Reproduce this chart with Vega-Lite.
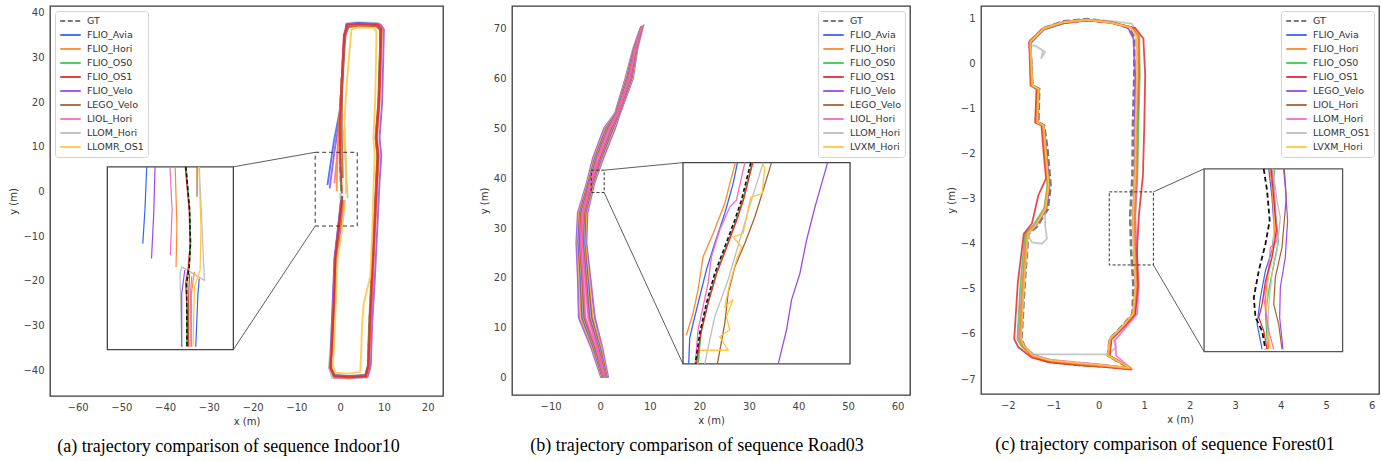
{
"$schema":"https://vega.github.io/schema/vega-lite/v6.json",
"background":"white",
"padding":{"left":8,"top":5,"right":5,"bottom":0},
"spacing":34,
"config":{
 "view":{"stroke":"#3a3a3a","strokeWidth":1.3},
 "axis":{"grid":false,"ticks":false,"domain":false,"labelFont":"DejaVu Sans","labelFontSize":10,"labelColor":"#444","titleFont":"DejaVu Sans","titleFontSize":10,"titleFontWeight":"normal","titleColor":"#333","labelPadding":6,"titlePadding":4},
 "legend":{"title":null,"symbolType":"stroke","symbolSize":420,"symbolStrokeWidth":2,"symbolOpacity":0.9,"labelFont":"DejaVu Sans","labelFontSize":9.5,"labelColor":"#333","fillColor":"white","strokeColor":"#d4d4d4","cornerRadius":3,"padding":4,"offset":5,"rowPadding":2,"clipHeight":12,"labelOffset":5,"labelLimit":200},
 "line":{"clip":true}
},
"resolve":{"scale":{"color":"independent"},"legend":{"color":"independent"}},
"datasets":{
"a_main":[
{"s":"LLOM_Hori","i":0,"x":0.0,"y":-0.3},{"s":"LLOM_Hori","i":1,"x":0.2,"y":-3},{"s":"LLOM_Hori","i":2,"x":-0.3,"y":-9},{"s":"LLOM_Hori","i":3,"x":-1.2,"y":-15},{"s":"LLOM_Hori","i":4,"x":-1.7,"y":-25},{"s":"LLOM_Hori","i":5,"x":-2.2,"y":-35},{"s":"LLOM_Hori","i":6,"x":-2.6,"y":-39.5},{"s":"LLOM_Hori","i":7,"x":-1.8,"y":-41.8},{"s":"LLOM_Hori","i":8,"x":2,"y":-41.9},{"s":"LLOM_Hori","i":9,"x":6.0,"y":-41.7},{"s":"LLOM_Hori","i":10,"x":6.6,"y":-39},{"s":"LLOM_Hori","i":11,"x":6.9,"y":-30},{"s":"LLOM_Hori","i":12,"x":7.5,"y":-20},{"s":"LLOM_Hori","i":13,"x":8.0,"y":-8},{"s":"LLOM_Hori","i":14,"x":8.5,"y":2},{"s":"LLOM_Hori","i":15,"x":8.8,"y":8},{"s":"LLOM_Hori","i":16,"x":8.4,"y":12},{"s":"LLOM_Hori","i":17,"x":9.0,"y":20},{"s":"LLOM_Hori","i":18,"x":9.4,"y":32},{"s":"LLOM_Hori","i":19,"x":9.6,"y":36.6},{"s":"LLOM_Hori","i":20,"x":8.7,"y":37.7},{"s":"LLOM_Hori","i":21,"x":4,"y":37.9},{"s":"LLOM_Hori","i":22,"x":1.5,"y":37.6},{"s":"LLOM_Hori","i":23,"x":0.8,"y":35},{"s":"LLOM_Hori","i":24,"x":0.4,"y":24},{"s":"LLOM_Hori","i":25,"x":0.5,"y":15},{"s":"LLOM_Hori","i":26,"x":1.2,"y":8},{"s":"LLOM_Hori","i":27,"x":1.7,"y":-1.5},
{"s":"FLIO_OS0","i":0,"x":0.3,"y":-1},{"s":"FLIO_OS0","i":1,"x":-0.5,"y":-9},{"s":"FLIO_OS0","i":2,"x":-1.2,"y":-15},{"s":"FLIO_OS0","i":3,"x":-1.6,"y":-25},{"s":"FLIO_OS0","i":4,"x":-2.0,"y":-35},{"s":"FLIO_OS0","i":5,"x":-2.4,"y":-39.5},{"s":"FLIO_OS0","i":6,"x":-1.5,"y":-41.3},{"s":"FLIO_OS0","i":7,"x":2,"y":-41.4},{"s":"FLIO_OS0","i":8,"x":5.8,"y":-41.2},{"s":"FLIO_OS0","i":9,"x":6.4,"y":-39},{"s":"FLIO_OS0","i":10,"x":6.7,"y":-30},{"s":"FLIO_OS0","i":11,"x":7.2,"y":-20},{"s":"FLIO_OS0","i":12,"x":7.8,"y":-8},{"s":"FLIO_OS0","i":13,"x":8.2,"y":2},{"s":"FLIO_OS0","i":14,"x":8.5,"y":8},{"s":"FLIO_OS0","i":15,"x":8.1,"y":12},{"s":"FLIO_OS0","i":16,"x":8.8,"y":20},{"s":"FLIO_OS0","i":17,"x":9.1,"y":32},{"s":"FLIO_OS0","i":18,"x":9.2,"y":36.3},{"s":"FLIO_OS0","i":19,"x":8.4,"y":37.1},{"s":"FLIO_OS0","i":20,"x":4,"y":37.3},{"s":"FLIO_OS0","i":21,"x":1.8,"y":37.1},{"s":"FLIO_OS0","i":22,"x":1.0,"y":35},{"s":"FLIO_OS0","i":23,"x":0.3,"y":24},{"s":"FLIO_OS0","i":24,"x":-0.2,"y":15},{"s":"FLIO_OS0","i":25,"x":0,"y":6},{"s":"FLIO_OS0","i":26,"x":0.2,"y":0},
{"s":"FLIO_Avia","i":0,"x":1.0,"y":-2},{"s":"FLIO_Avia","i":1,"x":0,"y":-9},{"s":"FLIO_Avia","i":2,"x":-0.9,"y":-15},{"s":"FLIO_Avia","i":3,"x":-1.3,"y":-25},{"s":"FLIO_Avia","i":4,"x":-1.8,"y":-35},{"s":"FLIO_Avia","i":5,"x":-2.1,"y":-39.5},{"s":"FLIO_Avia","i":6,"x":-1.3,"y":-41.1},{"s":"FLIO_Avia","i":7,"x":2,"y":-41.3},{"s":"FLIO_Avia","i":8,"x":5.9,"y":-41.1},{"s":"FLIO_Avia","i":9,"x":6.6,"y":-39},{"s":"FLIO_Avia","i":10,"x":6.9,"y":-30},{"s":"FLIO_Avia","i":11,"x":7.4,"y":-20},{"s":"FLIO_Avia","i":12,"x":7.9,"y":-8},{"s":"FLIO_Avia","i":13,"x":8.4,"y":2},{"s":"FLIO_Avia","i":14,"x":8.7,"y":8},{"s":"FLIO_Avia","i":15,"x":8.3,"y":12},{"s":"FLIO_Avia","i":16,"x":8.9,"y":20},{"s":"FLIO_Avia","i":17,"x":9.2,"y":32},{"s":"FLIO_Avia","i":18,"x":9.2,"y":36.5},{"s":"FLIO_Avia","i":19,"x":8.4,"y":37.5},{"s":"FLIO_Avia","i":20,"x":4,"y":37.7},{"s":"FLIO_Avia","i":21,"x":1.4,"y":37.4},{"s":"FLIO_Avia","i":22,"x":0.9,"y":33},{"s":"FLIO_Avia","i":23,"x":0.6,"y":26},{"s":"FLIO_Avia","i":24,"x":0.3,"y":20},{"s":"FLIO_Avia","i":25,"x":-1.5,"y":10.8},{"s":"FLIO_Avia","i":26,"x":-2.9,"y":1.4},
{"s":"FLIO_Velo","i":0,"x":0.2,"y":-2},{"s":"FLIO_Velo","i":1,"x":-0.6,"y":-9},{"s":"FLIO_Velo","i":2,"x":-1.3,"y":-15},{"s":"FLIO_Velo","i":3,"x":-1.7,"y":-25},{"s":"FLIO_Velo","i":4,"x":-2.1,"y":-35},{"s":"FLIO_Velo","i":5,"x":-2.2,"y":-39.5},{"s":"FLIO_Velo","i":6,"x":-1.2,"y":-41.6},{"s":"FLIO_Velo","i":7,"x":2,"y":-41.7},{"s":"FLIO_Velo","i":8,"x":6.3,"y":-41.5},{"s":"FLIO_Velo","i":9,"x":7.0,"y":-39},{"s":"FLIO_Velo","i":10,"x":7.3,"y":-30},{"s":"FLIO_Velo","i":11,"x":7.9,"y":-20},{"s":"FLIO_Velo","i":12,"x":8.5,"y":-8},{"s":"FLIO_Velo","i":13,"x":9.0,"y":2},{"s":"FLIO_Velo","i":14,"x":9.4,"y":8},{"s":"FLIO_Velo","i":15,"x":9.0,"y":12},{"s":"FLIO_Velo","i":16,"x":9.6,"y":20},{"s":"FLIO_Velo","i":17,"x":9.9,"y":32},{"s":"FLIO_Velo","i":18,"x":10.0,"y":36.3},{"s":"FLIO_Velo","i":19,"x":9.2,"y":37.4},{"s":"FLIO_Velo","i":20,"x":4,"y":37.6},{"s":"FLIO_Velo","i":21,"x":1.6,"y":37.4},{"s":"FLIO_Velo","i":22,"x":0.9,"y":33},{"s":"FLIO_Velo","i":23,"x":0.4,"y":24},{"s":"FLIO_Velo","i":24,"x":0.0,"y":17},{"s":"FLIO_Velo","i":25,"x":-1.3,"y":9},{"s":"FLIO_Velo","i":26,"x":-2.4,"y":0.7},
{"s":"LIOL_Hori","i":0,"x":0.6,"y":-2},{"s":"LIOL_Hori","i":1,"x":-0.3,"y":-9},{"s":"LIOL_Hori","i":2,"x":-1.1,"y":-15},{"s":"LIOL_Hori","i":3,"x":-1.5,"y":-25},{"s":"LIOL_Hori","i":4,"x":-1.9,"y":-35},{"s":"LIOL_Hori","i":5,"x":-2.2,"y":-39.5},{"s":"LIOL_Hori","i":6,"x":-1.4,"y":-41.4},{"s":"LIOL_Hori","i":7,"x":2,"y":-41.5},{"s":"LIOL_Hori","i":8,"x":5.9,"y":-41.3},{"s":"LIOL_Hori","i":9,"x":6.5,"y":-39},{"s":"LIOL_Hori","i":10,"x":6.8,"y":-30},{"s":"LIOL_Hori","i":11,"x":7.3,"y":-20},{"s":"LIOL_Hori","i":12,"x":7.8,"y":-8},{"s":"LIOL_Hori","i":13,"x":8.3,"y":2},{"s":"LIOL_Hori","i":14,"x":8.6,"y":8},{"s":"LIOL_Hori","i":15,"x":8.2,"y":12},{"s":"LIOL_Hori","i":16,"x":8.8,"y":20},{"s":"LIOL_Hori","i":17,"x":9.2,"y":32},{"s":"LIOL_Hori","i":18,"x":9.3,"y":36.4},{"s":"LIOL_Hori","i":19,"x":8.5,"y":37.3},{"s":"LIOL_Hori","i":20,"x":4,"y":37.5},{"s":"LIOL_Hori","i":21,"x":1.7,"y":37.3},{"s":"LIOL_Hori","i":22,"x":0.9,"y":35},{"s":"LIOL_Hori","i":23,"x":0.3,"y":24},{"s":"LIOL_Hori","i":24,"x":-0.1,"y":15},{"s":"LIOL_Hori","i":25,"x":-0.7,"y":8},{"s":"LIOL_Hori","i":26,"x":-1.3,"y":1.8},
{"s":"FLIO_Hori","i":0,"x":0.7,"y":-2},{"s":"FLIO_Hori","i":1,"x":-0.2,"y":-9},{"s":"FLIO_Hori","i":2,"x":-1.0,"y":-15},{"s":"FLIO_Hori","i":3,"x":-1.4,"y":-25},{"s":"FLIO_Hori","i":4,"x":-1.9,"y":-35},{"s":"FLIO_Hori","i":5,"x":-2.2,"y":-39.5},{"s":"FLIO_Hori","i":6,"x":-1.3,"y":-41.6},{"s":"FLIO_Hori","i":7,"x":2,"y":-41.7},{"s":"FLIO_Hori","i":8,"x":6.0,"y":-41.4},{"s":"FLIO_Hori","i":9,"x":6.6,"y":-39},{"s":"FLIO_Hori","i":10,"x":6.9,"y":-30},{"s":"FLIO_Hori","i":11,"x":7.4,"y":-20},{"s":"FLIO_Hori","i":12,"x":8.0,"y":-8},{"s":"FLIO_Hori","i":13,"x":8.5,"y":2},{"s":"FLIO_Hori","i":14,"x":8.8,"y":8},{"s":"FLIO_Hori","i":15,"x":8.4,"y":12},{"s":"FLIO_Hori","i":16,"x":9.0,"y":20},{"s":"FLIO_Hori","i":17,"x":9.4,"y":32},{"s":"FLIO_Hori","i":18,"x":9.5,"y":36.5},{"s":"FLIO_Hori","i":19,"x":8.6,"y":37.0},{"s":"FLIO_Hori","i":20,"x":4,"y":37.1},{"s":"FLIO_Hori","i":21,"x":1.9,"y":36.9},{"s":"FLIO_Hori","i":22,"x":1.1,"y":35},{"s":"FLIO_Hori","i":23,"x":0.3,"y":24},{"s":"FLIO_Hori","i":24,"x":-0.3,"y":15},{"s":"FLIO_Hori","i":25,"x":-0.6,"y":8},{"s":"FLIO_Hori","i":26,"x":-0.8,"y":0},
{"s":"LEGO_Velo","i":0,"x":0.5,"y":-2},{"s":"LEGO_Velo","i":1,"x":-0.4,"y":-9},{"s":"LEGO_Velo","i":2,"x":-1.1,"y":-15},{"s":"LEGO_Velo","i":3,"x":-1.5,"y":-25},{"s":"LEGO_Velo","i":4,"x":-2.0,"y":-35},{"s":"LEGO_Velo","i":5,"x":-2.1,"y":-39.5},{"s":"LEGO_Velo","i":6,"x":-1.2,"y":-41.2},{"s":"LEGO_Velo","i":7,"x":2,"y":-41.4},{"s":"LEGO_Velo","i":8,"x":5.7,"y":-41.2},{"s":"LEGO_Velo","i":9,"x":6.3,"y":-39},{"s":"LEGO_Velo","i":10,"x":6.6,"y":-30},{"s":"LEGO_Velo","i":11,"x":7.1,"y":-20},{"s":"LEGO_Velo","i":12,"x":7.7,"y":-8},{"s":"LEGO_Velo","i":13,"x":8.2,"y":2},{"s":"LEGO_Velo","i":14,"x":8.5,"y":8},{"s":"LEGO_Velo","i":15,"x":8.1,"y":12},{"s":"LEGO_Velo","i":16,"x":8.7,"y":20},{"s":"LEGO_Velo","i":17,"x":9.1,"y":32},{"s":"LEGO_Velo","i":18,"x":9.1,"y":36.2},{"s":"LEGO_Velo","i":19,"x":8.3,"y":36.9},{"s":"LEGO_Velo","i":20,"x":4,"y":37.0},{"s":"LEGO_Velo","i":21,"x":1.9,"y":36.8},{"s":"LEGO_Velo","i":22,"x":1.2,"y":35},{"s":"LEGO_Velo","i":23,"x":0.5,"y":24},{"s":"LEGO_Velo","i":24,"x":0.3,"y":15},{"s":"LEGO_Velo","i":25,"x":0.5,"y":8},{"s":"LEGO_Velo","i":26,"x":0.6,"y":3},
{"s":"LLOMR_OS1","i":0,"x":1.1,"y":-2},{"s":"LLOMR_OS1","i":1,"x":0.4,"y":-9},{"s":"LLOMR_OS1","i":2,"x":-0.6,"y":-15},{"s":"LLOMR_OS1","i":3,"x":-1.0,"y":-25},{"s":"LLOMR_OS1","i":4,"x":-1.4,"y":-35},{"s":"LLOMR_OS1","i":5,"x":-1.7,"y":-39},{"s":"LLOMR_OS1","i":6,"x":-1.0,"y":-40.6},{"s":"LLOMR_OS1","i":7,"x":2,"y":-40.8},{"s":"LLOMR_OS1","i":8,"x":4.6,"y":-40.4},{"s":"LLOMR_OS1","i":9,"x":4.8,"y":-36},{"s":"LLOMR_OS1","i":10,"x":5.0,"y":-30},{"s":"LLOMR_OS1","i":11,"x":5.4,"y":-25},{"s":"LLOMR_OS1","i":12,"x":6.9,"y":-19},{"s":"LLOMR_OS1","i":13,"x":7.3,"y":-10},{"s":"LLOMR_OS1","i":14,"x":7.6,"y":0},{"s":"LLOMR_OS1","i":15,"x":7.9,"y":8},{"s":"LLOMR_OS1","i":16,"x":7.6,"y":12},{"s":"LLOMR_OS1","i":17,"x":8.0,"y":20},{"s":"LLOMR_OS1","i":18,"x":8.2,"y":30},{"s":"LLOMR_OS1","i":19,"x":8.3,"y":35.8},{"s":"LLOMR_OS1","i":20,"x":7.6,"y":36.6},{"s":"LLOMR_OS1","i":21,"x":4,"y":36.7},{"s":"LLOMR_OS1","i":22,"x":2.6,"y":36.2},{"s":"LLOMR_OS1","i":23,"x":2.2,"y":32},{"s":"LLOMR_OS1","i":24,"x":1.5,"y":24},{"s":"LLOMR_OS1","i":25,"x":1.0,"y":16},{"s":"LLOMR_OS1","i":26,"x":1.3,"y":6},{"s":"LLOMR_OS1","i":27,"x":1.3,"y":-0.5},
{"s":"FLIO_OS1","i":0,"x":0.5,"y":-1},{"s":"FLIO_OS1","i":1,"x":-0.4,"y":-9},{"s":"FLIO_OS1","i":2,"x":-1.1,"y":-15},{"s":"FLIO_OS1","i":3,"x":-1.4,"y":-25},{"s":"FLIO_OS1","i":4,"x":-1.9,"y":-35},{"s":"FLIO_OS1","i":5,"x":-2.2,"y":-39.5},{"s":"FLIO_OS1","i":6,"x":-1.4,"y":-41.4},{"s":"FLIO_OS1","i":7,"x":2,"y":-41.6},{"s":"FLIO_OS1","i":8,"x":5.9,"y":-41.4},{"s":"FLIO_OS1","i":9,"x":6.5,"y":-39},{"s":"FLIO_OS1","i":10,"x":6.8,"y":-30},{"s":"FLIO_OS1","i":11,"x":7.3,"y":-20},{"s":"FLIO_OS1","i":12,"x":7.9,"y":-8},{"s":"FLIO_OS1","i":13,"x":8.4,"y":2},{"s":"FLIO_OS1","i":14,"x":8.7,"y":8},{"s":"FLIO_OS1","i":15,"x":8.3,"y":12},{"s":"FLIO_OS1","i":16,"x":8.9,"y":20},{"s":"FLIO_OS1","i":17,"x":9.3,"y":32},{"s":"FLIO_OS1","i":18,"x":9.4,"y":36.4},{"s":"FLIO_OS1","i":19,"x":8.6,"y":37.3},{"s":"FLIO_OS1","i":20,"x":4,"y":37.5},{"s":"FLIO_OS1","i":21,"x":1.7,"y":37.3},{"s":"FLIO_OS1","i":22,"x":0.9,"y":35},{"s":"FLIO_OS1","i":23,"x":0.3,"y":24},{"s":"FLIO_OS1","i":24,"x":-0.1,"y":15},{"s":"FLIO_OS1","i":25,"x":0.1,"y":6},{"s":"FLIO_OS1","i":26,"x":0.4,"y":-0.5},
{"s":"GT","i":0,"x":0.4,"y":-1},{"s":"GT","i":1,"x":-0.5,"y":-9},{"s":"GT","i":2,"x":-1.2,"y":-15},{"s":"GT","i":3,"x":-1.5,"y":-25},{"s":"GT","i":4,"x":-2.0,"y":-35},{"s":"GT","i":5,"x":-2.3,"y":-39.5},{"s":"GT","i":6,"x":-1.5,"y":-41.3},{"s":"GT","i":7,"x":2,"y":-41.5},{"s":"GT","i":8,"x":5.8,"y":-41.3},{"s":"GT","i":9,"x":6.4,"y":-39},{"s":"GT","i":10,"x":6.7,"y":-30},{"s":"GT","i":11,"x":7.2,"y":-20},{"s":"GT","i":12,"x":7.8,"y":-8},{"s":"GT","i":13,"x":8.3,"y":2},{"s":"GT","i":14,"x":8.6,"y":8},{"s":"GT","i":15,"x":8.2,"y":12},{"s":"GT","i":16,"x":8.8,"y":20},{"s":"GT","i":17,"x":9.2,"y":32},{"s":"GT","i":18,"x":9.3,"y":36.3},{"s":"GT","i":19,"x":8.5,"y":37.2},{"s":"GT","i":20,"x":4,"y":37.4},{"s":"GT","i":21,"x":1.8,"y":37.2},{"s":"GT","i":22,"x":1.0,"y":35},{"s":"GT","i":23,"x":0.3,"y":24},{"s":"GT","i":24,"x":-0.2,"y":15},{"s":"GT","i":25,"x":0,"y":6},{"s":"GT","i":26,"x":0.3,"y":0}
],
"a_ins":[
{"s":"LLOM_Hori","g":"w1","i":0,"x":-32.2,"y":5.5},{"s":"LLOM_Hori","g":"w1","i":1,"x":-31.0,"y":-19.9},{"s":"LLOM_Hori","g":"w1","i":2,"x":-36.2,"y":-16.9},{"s":"LLOM_Hori","g":"w1","i":3,"x":-36.6,"y":-18.4},{"s":"LLOM_Hori","g":"w1","i":4,"x":-36.2,"y":-34.8},
{"s":"FLIO_Avia","g":"b1","i":0,"x":-44.2,"y":5.5},{"s":"FLIO_Avia","g":"b1","i":1,"x":-44.6,"y":-4},{"s":"FLIO_Avia","g":"b1","i":2,"x":-45.1,"y":-11.7},
{"s":"FLIO_Avia","g":"b2","i":0,"x":-32.2,"y":-19.5},{"s":"FLIO_Avia","g":"b2","i":1,"x":-32.5,"y":-22.9},{"s":"FLIO_Avia","g":"b2","i":2,"x":-33.0,"y":-34.8},
{"s":"FLIO_Velo","g":"p1","i":0,"x":-42.3,"y":5.5},{"s":"FLIO_Velo","g":"p1","i":1,"x":-42.6,"y":-5},{"s":"FLIO_Velo","g":"p1","i":2,"x":-43.1,"y":-15.0},
{"s":"FLIO_Velo","g":"p2","i":0,"x":-35.5,"y":-17.6},{"s":"FLIO_Velo","g":"p2","i":1,"x":-36.2,"y":-22.9},{"s":"FLIO_Velo","g":"p2","i":2,"x":-36.2,"y":-34.8},
{"s":"LIOL_Hori","g":"k1","i":0,"x":-38.9,"y":5.5},{"s":"LIOL_Hori","g":"k1","i":1,"x":-38.4,"y":-4.2},{"s":"LIOL_Hori","g":"k1","i":2,"x":-38.8,"y":-14.3},
{"s":"LIOL_Hori","g":"k2","i":0,"x":-33.9,"y":-19},{"s":"LIOL_Hori","g":"k2","i":1,"x":-34.2,"y":-23},{"s":"LIOL_Hori","g":"k2","i":2,"x":-34.3,"y":-34.8},
{"s":"FLIO_Hori","g":"o1","i":0,"x":-37.7,"y":5.5},{"s":"FLIO_Hori","g":"o1","i":1,"x":-37.3,"y":-7.9},{"s":"FLIO_Hori","g":"o1","i":2,"x":-37.5,"y":-16.9},
{"s":"FLIO_Hori","g":"o2","i":0,"x":-33.3,"y":-18.0},{"s":"FLIO_Hori","g":"o2","i":1,"x":-34.0,"y":-22.9},{"s":"FLIO_Hori","g":"o2","i":2,"x":-34.0,"y":-34.8},
{"s":"LEGO_Velo","g":"n1","i":0,"x":-32.7,"y":5.5},{"s":"LEGO_Velo","g":"n1","i":1,"x":-32.7,"y":-1.2},
{"s":"LEGO_Velo","g":"n2","i":0,"x":-34.4,"y":-18.4},{"s":"LEGO_Velo","g":"n2","i":1,"x":-34.6,"y":-22.9},{"s":"LEGO_Velo","g":"n2","i":2,"x":-34.7,"y":-34.8},
{"s":"LLOMR_OS1","g":"y1","i":0,"x":-32.3,"y":5.5},{"s":"LLOMR_OS1","g":"y1","i":1,"x":-31.8,"y":-7.9},{"s":"LLOMR_OS1","g":"y1","i":2,"x":-32.0,"y":-17.6},{"s":"LLOMR_OS1","g":"y1","i":3,"x":-33.3,"y":-21.4},{"s":"LLOMR_OS1","g":"y1","i":4,"x":-33.6,"y":-34.8},
{"s":"FLIO_OS0","g":"g1","i":0,"x":-35.2,"y":5.5},{"s":"FLIO_OS0","g":"g1","i":1,"x":-34.35,"y":-4.2},{"s":"FLIO_OS0","g":"g1","i":2,"x":-34.15,"y":-11.7},{"s":"FLIO_OS0","g":"g1","i":3,"x":-34.45,"y":-16.9},{"s":"FLIO_OS0","g":"g1","i":4,"x":-35.0,"y":-20.6},{"s":"FLIO_OS0","g":"g1","i":5,"x":-35.1,"y":-34.8},
{"s":"FLIO_OS1","g":"r1","i":0,"x":-35.4,"y":5.5},{"s":"FLIO_OS1","g":"r1","i":1,"x":-34.5,"y":-4.2},{"s":"FLIO_OS1","g":"r1","i":2,"x":-34.3,"y":-11.7},{"s":"FLIO_OS1","g":"r1","i":3,"x":-34.7,"y":-16.9},{"s":"FLIO_OS1","g":"r1","i":4,"x":-35.3,"y":-20.6},{"s":"FLIO_OS1","g":"r1","i":5,"x":-34.9,"y":-27},{"s":"FLIO_OS1","g":"r1","i":6,"x":-34.8,"y":-34.8},
{"s":"GT","g":"gt","i":0,"x":-35.25,"y":5.5},{"s":"GT","g":"gt","i":1,"x":-34.4,"y":-4.2},{"s":"GT","g":"gt","i":2,"x":-34.2,"y":-11.7},{"s":"GT","g":"gt","i":3,"x":-34.5,"y":-16.9},{"s":"GT","g":"gt","i":4,"x":-35.1,"y":-20.6},{"s":"GT","g":"gt","i":5,"x":-35.0,"y":-34.8}
],
"a_frame":[{"x":-53.2,"x2":-24.4,"y":-35.4,"y2":5.5}],
"a_zoom":[{"x":-5.7,"x2":3.9,"y":-7.75,"y2":8.75}],
"a_conn":[{"x":-5.7,"y":8.75,"x2":-24.4,"y2":5.5},{"x":-5.7,"y":-7.75,"x2":-24.4,"y2":-35.4}],
"b_main":[
{"s":"FLIO_Velo","i":0,"x":0.2,"y":0},{"s":"FLIO_Velo","i":1,"x":-1.8,"y":6},{"s":"FLIO_Velo","i":2,"x":-4.3,"y":12},{"s":"FLIO_Velo","i":3,"x":-4.5,"y":20},{"s":"FLIO_Velo","i":4,"x":-4.8,"y":27},{"s":"FLIO_Velo","i":5,"x":-4.5,"y":33},{"s":"FLIO_Velo","i":6,"x":-2.7,"y":39},{"s":"FLIO_Velo","i":7,"x":-1.45,"y":44},{"s":"FLIO_Velo","i":8,"x":0.8,"y":50},{"s":"FLIO_Velo","i":9,"x":3.0,"y":53},{"s":"FLIO_Velo","i":10,"x":5.1,"y":60},{"s":"FLIO_Velo","i":11,"x":6.7,"y":66},{"s":"FLIO_Velo","i":12,"x":8.1,"y":70},{"s":"FLIO_Velo","i":13,"x":8.6,"y":70.4},{"s":"FLIO_Velo","i":14,"x":7.5,"y":66},{"s":"FLIO_Velo","i":15,"x":6.6,"y":60},{"s":"FLIO_Velo","i":16,"x":4.0,"y":53},{"s":"FLIO_Velo","i":17,"x":3.0,"y":50},{"s":"FLIO_Velo","i":18,"x":0.6,"y":44},{"s":"FLIO_Velo","i":19,"x":-1.2,"y":39},{"s":"FLIO_Velo","i":20,"x":-2.6,"y":33},{"s":"FLIO_Velo","i":21,"x":-2.8,"y":27},{"s":"FLIO_Velo","i":22,"x":-2.0,"y":20},{"s":"FLIO_Velo","i":23,"x":-1.1,"y":12},{"s":"FLIO_Velo","i":24,"x":0.4,"y":6},{"s":"FLIO_Velo","i":25,"x":1.6,"y":0},
{"s":"LVXM_Hori","i":0,"x":0.38,"y":0},{"s":"LVXM_Hori","i":1,"x":-1.52,"y":6},{"s":"LVXM_Hori","i":2,"x":-3.91,"y":12},{"s":"LVXM_Hori","i":3,"x":-4.19,"y":20},{"s":"LVXM_Hori","i":4,"x":-4.55,"y":27},{"s":"LVXM_Hori","i":5,"x":-4.26,"y":33},{"s":"LVXM_Hori","i":6,"x":-2.51,"y":39},{"s":"LVXM_Hori","i":7,"x":-1.2,"y":44},{"s":"LVXM_Hori","i":8,"x":1.08,"y":50},{"s":"LVXM_Hori","i":9,"x":3.13,"y":53},{"s":"LVXM_Hori","i":10,"x":5.29,"y":60},{"s":"LVXM_Hori","i":11,"x":6.8,"y":66},{"s":"LVXM_Hori","i":12,"x":8.16,"y":70},{"s":"LVXM_Hori","i":13,"x":8.54,"y":70.4},{"s":"LVXM_Hori","i":14,"x":7.4,"y":66},{"s":"LVXM_Hori","i":15,"x":6.41,"y":60},{"s":"LVXM_Hori","i":16,"x":3.87,"y":53},{"s":"LVXM_Hori","i":17,"x":2.72,"y":50},{"s":"LVXM_Hori","i":18,"x":0.35,"y":44},{"s":"LVXM_Hori","i":19,"x":-1.39,"y":39},{"s":"LVXM_Hori","i":20,"x":-2.84,"y":33},{"s":"LVXM_Hori","i":21,"x":-3.05,"y":27},{"s":"LVXM_Hori","i":22,"x":-2.31,"y":20},{"s":"LVXM_Hori","i":23,"x":-1.49,"y":12},{"s":"LVXM_Hori","i":24,"x":0.12,"y":6},{"s":"LVXM_Hori","i":25,"x":1.42,"y":0},
{"s":"FLIO_Hori","i":0,"x":0.45,"y":0},{"s":"FLIO_Hori","i":1,"x":-1.41,"y":6},{"s":"FLIO_Hori","i":2,"x":-3.76,"y":12},{"s":"FLIO_Hori","i":3,"x":-4.06,"y":20},{"s":"FLIO_Hori","i":4,"x":-4.45,"y":27},{"s":"FLIO_Hori","i":5,"x":-4.17,"y":33},{"s":"FLIO_Hori","i":6,"x":-2.44,"y":39},{"s":"FLIO_Hori","i":7,"x":-1.1,"y":44},{"s":"FLIO_Hori","i":8,"x":1.19,"y":50},{"s":"FLIO_Hori","i":9,"x":3.18,"y":53},{"s":"FLIO_Hori","i":10,"x":5.36,"y":60},{"s":"FLIO_Hori","i":11,"x":6.84,"y":66},{"s":"FLIO_Hori","i":12,"x":8.19,"y":70},{"s":"FLIO_Hori","i":13,"x":8.51,"y":70.4},{"s":"FLIO_Hori","i":14,"x":7.36,"y":66},{"s":"FLIO_Hori","i":15,"x":6.34,"y":60},{"s":"FLIO_Hori","i":16,"x":3.82,"y":53},{"s":"FLIO_Hori","i":17,"x":2.61,"y":50},{"s":"FLIO_Hori","i":18,"x":0.25,"y":44},{"s":"FLIO_Hori","i":19,"x":-1.46,"y":39},{"s":"FLIO_Hori","i":20,"x":-2.93,"y":33},{"s":"FLIO_Hori","i":21,"x":-3.15,"y":27},{"s":"FLIO_Hori","i":22,"x":-2.44,"y":20},{"s":"FLIO_Hori","i":23,"x":-1.64,"y":12},{"s":"FLIO_Hori","i":24,"x":0.01,"y":6},{"s":"FLIO_Hori","i":25,"x":1.35,"y":0},
{"s":"LEGO_Velo","i":0,"x":0.52,"y":0},{"s":"LEGO_Velo","i":1,"x":-1.3,"y":6},{"s":"LEGO_Velo","i":2,"x":-3.6,"y":12},{"s":"LEGO_Velo","i":3,"x":-3.94,"y":20},{"s":"LEGO_Velo","i":4,"x":-4.35,"y":27},{"s":"LEGO_Velo","i":5,"x":-4.07,"y":33},{"s":"LEGO_Velo","i":6,"x":-2.36,"y":39},{"s":"LEGO_Velo","i":7,"x":-1.0,"y":44},{"s":"LEGO_Velo","i":8,"x":1.3,"y":50},{"s":"LEGO_Velo","i":9,"x":3.23,"y":53},{"s":"LEGO_Velo","i":10,"x":5.44,"y":60},{"s":"LEGO_Velo","i":11,"x":6.88,"y":66},{"s":"LEGO_Velo","i":12,"x":8.21,"y":70},{"s":"LEGO_Velo","i":13,"x":8.49,"y":70.4},{"s":"LEGO_Velo","i":14,"x":7.32,"y":66},{"s":"LEGO_Velo","i":15,"x":6.26,"y":60},{"s":"LEGO_Velo","i":16,"x":3.77,"y":53},{"s":"LEGO_Velo","i":17,"x":2.5,"y":50},{"s":"LEGO_Velo","i":18,"x":0.15,"y":44},{"s":"LEGO_Velo","i":19,"x":-1.54,"y":39},{"s":"LEGO_Velo","i":20,"x":-3.03,"y":33},{"s":"LEGO_Velo","i":21,"x":-3.25,"y":27},{"s":"LEGO_Velo","i":22,"x":-2.56,"y":20},{"s":"LEGO_Velo","i":23,"x":-1.8,"y":12},{"s":"LEGO_Velo","i":24,"x":-0.1,"y":6},{"s":"LEGO_Velo","i":25,"x":1.28,"y":0},
{"s":"FLIO_Avia","i":0,"x":0.55,"y":0},{"s":"FLIO_Avia","i":1,"x":-1.25,"y":6},{"s":"FLIO_Avia","i":2,"x":-3.52,"y":12},{"s":"FLIO_Avia","i":3,"x":-3.87,"y":20},{"s":"FLIO_Avia","i":4,"x":-4.3,"y":27},{"s":"FLIO_Avia","i":5,"x":-4.02,"y":33},{"s":"FLIO_Avia","i":6,"x":-2.32,"y":39},{"s":"FLIO_Avia","i":7,"x":-0.95,"y":44},{"s":"FLIO_Avia","i":8,"x":1.35,"y":50},{"s":"FLIO_Avia","i":9,"x":3.25,"y":53},{"s":"FLIO_Avia","i":10,"x":5.48,"y":60},{"s":"FLIO_Avia","i":11,"x":6.9,"y":66},{"s":"FLIO_Avia","i":12,"x":8.23,"y":70},{"s":"FLIO_Avia","i":13,"x":8.47,"y":70.4},{"s":"FLIO_Avia","i":14,"x":7.3,"y":66},{"s":"FLIO_Avia","i":15,"x":6.22,"y":60},{"s":"FLIO_Avia","i":16,"x":3.75,"y":53},{"s":"FLIO_Avia","i":17,"x":2.45,"y":50},{"s":"FLIO_Avia","i":18,"x":0.1,"y":44},{"s":"FLIO_Avia","i":19,"x":-1.58,"y":39},{"s":"FLIO_Avia","i":20,"x":-3.08,"y":33},{"s":"FLIO_Avia","i":21,"x":-3.3,"y":27},{"s":"FLIO_Avia","i":22,"x":-2.63,"y":20},{"s":"FLIO_Avia","i":23,"x":-1.88,"y":12},{"s":"FLIO_Avia","i":24,"x":-0.15,"y":6},{"s":"FLIO_Avia","i":25,"x":1.25,"y":0},
{"s":"LLOM_Hori","i":0,"x":0.62,"y":0},{"s":"LLOM_Hori","i":1,"x":-1.14,"y":6},{"s":"LLOM_Hori","i":2,"x":-3.37,"y":12},{"s":"LLOM_Hori","i":3,"x":-3.75,"y":20},{"s":"LLOM_Hori","i":4,"x":-4.2,"y":27},{"s":"LLOM_Hori","i":5,"x":-3.93,"y":33},{"s":"LLOM_Hori","i":6,"x":-2.25,"y":39},{"s":"LLOM_Hori","i":7,"x":-0.85,"y":44},{"s":"LLOM_Hori","i":8,"x":1.46,"y":50},{"s":"LLOM_Hori","i":9,"x":3.3,"y":53},{"s":"LLOM_Hori","i":10,"x":5.55,"y":60},{"s":"LLOM_Hori","i":11,"x":6.94,"y":66},{"s":"LLOM_Hori","i":12,"x":8.25,"y":70},{"s":"LLOM_Hori","i":13,"x":8.45,"y":70.4},{"s":"LLOM_Hori","i":14,"x":7.26,"y":66},{"s":"LLOM_Hori","i":15,"x":6.15,"y":60},{"s":"LLOM_Hori","i":16,"x":3.7,"y":53},{"s":"LLOM_Hori","i":17,"x":2.34,"y":50},{"s":"LLOM_Hori","i":18,"x":0.0,"y":44},{"s":"LLOM_Hori","i":19,"x":-1.65,"y":39},{"s":"LLOM_Hori","i":20,"x":-3.17,"y":33},{"s":"LLOM_Hori","i":21,"x":-3.4,"y":27},{"s":"LLOM_Hori","i":22,"x":-2.75,"y":20},{"s":"LLOM_Hori","i":23,"x":-2.03,"y":12},{"s":"LLOM_Hori","i":24,"x":-0.26,"y":6},{"s":"LLOM_Hori","i":25,"x":1.18,"y":0},
{"s":"FLIO_OS0","i":0,"x":0.69,"y":0},{"s":"FLIO_OS0","i":1,"x":-1.03,"y":6},{"s":"FLIO_OS0","i":2,"x":-3.21,"y":12},{"s":"FLIO_OS0","i":3,"x":-3.62,"y":20},{"s":"FLIO_OS0","i":4,"x":-4.1,"y":27},{"s":"FLIO_OS0","i":5,"x":-3.83,"y":33},{"s":"FLIO_OS0","i":6,"x":-2.17,"y":39},{"s":"FLIO_OS0","i":7,"x":-0.75,"y":44},{"s":"FLIO_OS0","i":8,"x":1.57,"y":50},{"s":"FLIO_OS0","i":9,"x":3.35,"y":53},{"s":"FLIO_OS0","i":10,"x":5.63,"y":60},{"s":"FLIO_OS0","i":11,"x":6.98,"y":66},{"s":"FLIO_OS0","i":12,"x":8.28,"y":70},{"s":"FLIO_OS0","i":13,"x":8.42,"y":70.4},{"s":"FLIO_OS0","i":14,"x":7.22,"y":66},{"s":"FLIO_OS0","i":15,"x":6.07,"y":60},{"s":"FLIO_OS0","i":16,"x":3.65,"y":53},{"s":"FLIO_OS0","i":17,"x":2.23,"y":50},{"s":"FLIO_OS0","i":18,"x":-0.1,"y":44},{"s":"FLIO_OS0","i":19,"x":-1.73,"y":39},{"s":"FLIO_OS0","i":20,"x":-3.27,"y":33},{"s":"FLIO_OS0","i":21,"x":-3.5,"y":27},{"s":"FLIO_OS0","i":22,"x":-2.88,"y":20},{"s":"FLIO_OS0","i":23,"x":-2.19,"y":12},{"s":"FLIO_OS0","i":24,"x":-0.37,"y":6},{"s":"FLIO_OS0","i":25,"x":1.11,"y":0},
{"s":"FLIO_OS1","i":0,"x":0.73,"y":0},{"s":"FLIO_OS1","i":1,"x":-0.97,"y":6},{"s":"FLIO_OS1","i":2,"x":-3.14,"y":12},{"s":"FLIO_OS1","i":3,"x":-3.56,"y":20},{"s":"FLIO_OS1","i":4,"x":-4.05,"y":27},{"s":"FLIO_OS1","i":5,"x":-3.79,"y":33},{"s":"FLIO_OS1","i":6,"x":-2.14,"y":39},{"s":"FLIO_OS1","i":7,"x":-0.7,"y":44},{"s":"FLIO_OS1","i":8,"x":1.63,"y":50},{"s":"FLIO_OS1","i":9,"x":3.38,"y":53},{"s":"FLIO_OS1","i":10,"x":5.66,"y":60},{"s":"FLIO_OS1","i":11,"x":7.0,"y":66},{"s":"FLIO_OS1","i":12,"x":8.29,"y":70},{"s":"FLIO_OS1","i":13,"x":8.41,"y":70.4},{"s":"FLIO_OS1","i":14,"x":7.2,"y":66},{"s":"FLIO_OS1","i":15,"x":6.04,"y":60},{"s":"FLIO_OS1","i":16,"x":3.62,"y":53},{"s":"FLIO_OS1","i":17,"x":2.17,"y":50},{"s":"FLIO_OS1","i":18,"x":-0.15,"y":44},{"s":"FLIO_OS1","i":19,"x":-1.76,"y":39},{"s":"FLIO_OS1","i":20,"x":-3.31,"y":33},{"s":"FLIO_OS1","i":21,"x":-3.55,"y":27},{"s":"FLIO_OS1","i":22,"x":-2.94,"y":20},{"s":"FLIO_OS1","i":23,"x":-2.26,"y":12},{"s":"FLIO_OS1","i":24,"x":-0.43,"y":6},{"s":"FLIO_OS1","i":25,"x":1.07,"y":0},
{"s":"LIOL_Hori","i":0,"x":0.8,"y":0},{"s":"LIOL_Hori","i":1,"x":-0.86,"y":6},{"s":"LIOL_Hori","i":2,"x":-2.98,"y":12},{"s":"LIOL_Hori","i":3,"x":-3.44,"y":20},{"s":"LIOL_Hori","i":4,"x":-3.95,"y":27},{"s":"LIOL_Hori","i":5,"x":-3.69,"y":33},{"s":"LIOL_Hori","i":6,"x":-2.06,"y":39},{"s":"LIOL_Hori","i":7,"x":-0.6,"y":44},{"s":"LIOL_Hori","i":8,"x":1.74,"y":50},{"s":"LIOL_Hori","i":9,"x":3.43,"y":53},{"s":"LIOL_Hori","i":10,"x":5.74,"y":60},{"s":"LIOL_Hori","i":11,"x":7.04,"y":66},{"s":"LIOL_Hori","i":12,"x":8.31,"y":70},{"s":"LIOL_Hori","i":13,"x":8.39,"y":70.4},{"s":"LIOL_Hori","i":14,"x":7.16,"y":66},{"s":"LIOL_Hori","i":15,"x":5.96,"y":60},{"s":"LIOL_Hori","i":16,"x":3.57,"y":53},{"s":"LIOL_Hori","i":17,"x":2.06,"y":50},{"s":"LIOL_Hori","i":18,"x":-0.25,"y":44},{"s":"LIOL_Hori","i":19,"x":-1.84,"y":39},{"s":"LIOL_Hori","i":20,"x":-3.41,"y":33},{"s":"LIOL_Hori","i":21,"x":-3.65,"y":27},{"s":"LIOL_Hori","i":22,"x":-3.06,"y":20},{"s":"LIOL_Hori","i":23,"x":-2.42,"y":12},{"s":"LIOL_Hori","i":24,"x":-0.54,"y":6},{"s":"LIOL_Hori","i":25,"x":1.0,"y":0},
{"s":"GT","i":0,"x":0.69,"y":0},{"s":"GT","i":1,"x":-1.03,"y":6},{"s":"GT","i":2,"x":-3.21,"y":12},{"s":"GT","i":3,"x":-3.62,"y":20},{"s":"GT","i":4,"x":-4.1,"y":27},{"s":"GT","i":5,"x":-3.83,"y":33},{"s":"GT","i":6,"x":-2.17,"y":39},{"s":"GT","i":7,"x":-0.75,"y":44},{"s":"GT","i":8,"x":1.57,"y":50},{"s":"GT","i":9,"x":3.35,"y":53},{"s":"GT","i":10,"x":5.63,"y":60},{"s":"GT","i":11,"x":6.98,"y":66},{"s":"GT","i":12,"x":8.28,"y":70},{"s":"GT","i":13,"x":8.42,"y":70.4},{"s":"GT","i":14,"x":7.22,"y":66},{"s":"GT","i":15,"x":6.07,"y":60},{"s":"GT","i":16,"x":3.65,"y":53},{"s":"GT","i":17,"x":2.23,"y":50},{"s":"GT","i":18,"x":-0.1,"y":44},{"s":"GT","i":19,"x":-1.73,"y":39},{"s":"GT","i":20,"x":-3.27,"y":33},{"s":"GT","i":21,"x":-3.5,"y":27},{"s":"GT","i":22,"x":-2.88,"y":20},{"s":"GT","i":23,"x":-2.19,"y":12},{"s":"GT","i":24,"x":-0.37,"y":6},{"s":"GT","i":25,"x":1.11,"y":0}
],
"b_ins":[
{"s":"FLIO_Hori","g":"o","i":0,"x":27.28,"y":43.1},{"s":"FLIO_Hori","g":"o","i":1,"x":26.14,"y":38.9},{"s":"FLIO_Hori","g":"o","i":2,"x":25.13,"y":34.9},{"s":"FLIO_Hori","g":"o","i":3,"x":22.77,"y":28.9},{"s":"FLIO_Hori","g":"o","i":4,"x":20.74,"y":24.2},{"s":"FLIO_Hori","g":"o","i":5,"x":19.73,"y":17.6},{"s":"FLIO_Hori","g":"o","i":6,"x":18.72,"y":12.9},{"s":"FLIO_Hori","g":"o","i":7,"x":17.37,"y":8.5},
{"s":"FLIO_Avia","g":"b","i":0,"x":27.69,"y":43.1},{"s":"FLIO_Avia","g":"b","i":1,"x":26.81,"y":38.9},{"s":"FLIO_Avia","g":"b","i":2,"x":25.13,"y":32.9},{"s":"FLIO_Avia","g":"b","i":3,"x":23.1,"y":26.9},{"s":"FLIO_Avia","g":"b","i":4,"x":21.42,"y":21.6},{"s":"FLIO_Avia","g":"b","i":5,"x":20.07,"y":16.2},{"s":"FLIO_Avia","g":"b","i":6,"x":19.06,"y":12.2},{"s":"FLIO_Avia","g":"b","i":7,"x":18.05,"y":7.9},{"s":"FLIO_Avia","g":"b","i":8,"x":17.85,"y":2.75},
{"s":"LIOL_Hori","g":"k","i":0,"x":29.17,"y":43.1},{"s":"LIOL_Hori","g":"k","i":1,"x":27.48,"y":35.6},{"s":"LIOL_Hori","g":"k","i":2,"x":26.14,"y":34.2},{"s":"LIOL_Hori","g":"k","i":3,"x":24.11,"y":29.6},{"s":"LIOL_Hori","g":"k","i":4,"x":22.43,"y":24.2},{"s":"LIOL_Hori","g":"k","i":5,"x":21.76,"y":18.9},{"s":"LIOL_Hori","g":"k","i":6,"x":20.74,"y":14.2},{"s":"LIOL_Hori","g":"k","i":7,"x":19.73,"y":9.6},{"s":"LIOL_Hori","g":"k","i":8,"x":19.19,"y":2.75},
{"s":"LLOM_Hori","g":"w","i":0,"x":32.88,"y":43.1},{"s":"LLOM_Hori","g":"w","i":1,"x":30.52,"y":35.6},{"s":"LLOM_Hori","g":"w","i":2,"x":28.16,"y":27.6},{"s":"LLOM_Hori","g":"w","i":3,"x":25.8,"y":19.6},{"s":"LLOM_Hori","g":"w","i":4,"x":23.1,"y":12.2},{"s":"LLOM_Hori","g":"w","i":5,"x":21.08,"y":2.75},
{"s":"LEGO_Velo","g":"n","i":0,"x":34.56,"y":43.1},{"s":"LEGO_Velo","g":"n","i":1,"x":32.88,"y":37.6},{"s":"LEGO_Velo","g":"n","i":2,"x":31.19,"y":32.2},{"s":"LEGO_Velo","g":"n","i":3,"x":29.17,"y":26.9},{"s":"LEGO_Velo","g":"n","i":4,"x":27.15,"y":22.2},{"s":"LEGO_Velo","g":"n","i":5,"x":25.8,"y":16.9},{"s":"LEGO_Velo","g":"n","i":6,"x":25.13,"y":10.9},{"s":"LEGO_Velo","g":"n","i":7,"x":23.64,"y":2.75},
{"s":"LVXM_Hori","g":"y","i":0,"x":32.67,"y":42.9},{"s":"LVXM_Hori","g":"y","i":1,"x":33.21,"y":42.2},{"s":"LVXM_Hori","g":"y","i":2,"x":32.67,"y":36.9},{"s":"LVXM_Hori","g":"y","i":3,"x":30.38,"y":36.2},{"s":"LVXM_Hori","g":"y","i":4,"x":28.83,"y":28.9},{"s":"LVXM_Hori","g":"y","i":5,"x":26.81,"y":28.2},{"s":"LVXM_Hori","g":"y","i":6,"x":28.5,"y":26.2},{"s":"LVXM_Hori","g":"y","i":7,"x":27.48,"y":23.6},{"s":"LVXM_Hori","g":"y","i":8,"x":26.14,"y":18.9},{"s":"LVXM_Hori","g":"y","i":9,"x":25.13,"y":14.2},{"s":"LVXM_Hori","g":"y","i":10,"x":26.81,"y":15.6},{"s":"LVXM_Hori","g":"y","i":11,"x":25.46,"y":12.2},{"s":"LVXM_Hori","g":"y","i":12,"x":26.14,"y":9.6},{"s":"LVXM_Hori","g":"y","i":13,"x":24.11,"y":8.2},{"s":"LVXM_Hori","g":"y","i":14,"x":25.8,"y":5.5},{"s":"LVXM_Hori","g":"y","i":15,"x":20.07,"y":5.5},{"s":"LVXM_Hori","g":"y","i":16,"x":19.73,"y":2.75},
{"s":"FLIO_Velo","g":"p","i":0,"x":45.88,"y":43.1},{"s":"FLIO_Velo","g":"p","i":1,"x":43.32,"y":34.2},{"s":"FLIO_Velo","g":"p","i":2,"x":41.64,"y":27.6},{"s":"FLIO_Velo","g":"p","i":3,"x":40.29,"y":20.9},{"s":"FLIO_Velo","g":"p","i":4,"x":38.6,"y":15.6},{"s":"FLIO_Velo","g":"p","i":5,"x":37.59,"y":9.6},{"s":"FLIO_Velo","g":"p","i":6,"x":35.91,"y":2.75},
{"s":"FLIO_OS0","g":"g","i":0,"x":30.65,"y":43.1},{"s":"FLIO_OS0","g":"g","i":1,"x":28.77,"y":35.6},{"s":"FLIO_OS0","g":"g","i":2,"x":27.42,"y":31.6},{"s":"FLIO_OS0","g":"g","i":3,"x":25.4,"y":26.2},{"s":"FLIO_OS0","g":"g","i":4,"x":23.37,"y":20.9},{"s":"FLIO_OS0","g":"g","i":5,"x":21.69,"y":14.9},{"s":"FLIO_OS0","g":"g","i":6,"x":20.34,"y":8.9},{"s":"FLIO_OS0","g":"g","i":7,"x":19.73,"y":2.75},
{"s":"FLIO_OS1","g":"r","i":0,"x":30.79,"y":43.1},{"s":"FLIO_OS1","g":"r","i":1,"x":28.9,"y":35.6},{"s":"FLIO_OS1","g":"r","i":2,"x":27.55,"y":31.6},{"s":"FLIO_OS1","g":"r","i":3,"x":25.53,"y":26.2},{"s":"FLIO_OS1","g":"r","i":4,"x":23.5,"y":20.9},{"s":"FLIO_OS1","g":"r","i":5,"x":21.76,"y":14.9},{"s":"FLIO_OS1","g":"r","i":6,"x":20.27,"y":8.9},{"s":"FLIO_OS1","g":"r","i":7,"x":19.4,"y":2.75},
{"s":"GT","g":"gt","i":0,"x":30.38,"y":43.1},{"s":"GT","g":"gt","i":1,"x":28.5,"y":35.6},{"s":"GT","g":"gt","i":2,"x":27.15,"y":31.6},{"s":"GT","g":"gt","i":3,"x":25.13,"y":26.2},{"s":"GT","g":"gt","i":4,"x":23.1,"y":20.9},{"s":"GT","g":"gt","i":5,"x":21.42,"y":14.9},{"s":"GT","g":"gt","i":6,"x":20.07,"y":8.9},{"s":"GT","g":"gt","i":7,"x":19.19,"y":2.75}
],
"b_frame":[{"x":16.7,"x2":50.4,"y":2.75,"y2":43.1}],
"b_zoom":[{"x":-1.8,"x2":0.8,"y":37.1,"y2":41.6}],
"b_conn":[{"x":0.8,"y":41.6,"x2":16.7,"y2":43.1},{"x":0.8,"y":37.1,"x2":16.7,"y2":2.75}],
"c_main":[
{"s":"LLOMR_OS1","i":0,"x":-1.51,"y":0.47},{"s":"LLOMR_OS1","i":1,"x":-1.22,"y":0.78},{"s":"LLOMR_OS1","i":2,"x":-0.78,"y":0.92},{"s":"LLOMR_OS1","i":3,"x":-0.26,"y":0.97},{"s":"LLOMR_OS1","i":4,"x":0.25,"y":0.94},{"s":"LLOMR_OS1","i":5,"x":0.72,"y":0.88},{"s":"LLOMR_OS1","i":6,"x":0.82,"y":0.75},{"s":"LLOMR_OS1","i":7,"x":0.84,"y":-0.27},{"s":"LLOMR_OS1","i":8,"x":0.81,"y":-1.38},{"s":"LLOMR_OS1","i":9,"x":0.8,"y":-2.49},{"s":"LLOMR_OS1","i":10,"x":0.76,"y":-3.38},{"s":"LLOMR_OS1","i":11,"x":0.78,"y":-4.12},{"s":"LLOMR_OS1","i":12,"x":0.82,"y":-4.93},{"s":"LLOMR_OS1","i":13,"x":0.77,"y":-5.56},{"s":"LLOMR_OS1","i":14,"x":0.53,"y":-5.85},{"s":"LLOMR_OS1","i":15,"x":0.32,"y":-6.11},{"s":"LLOMR_OS1","i":16,"x":0.38,"y":-6.3},{"s":"LLOMR_OS1","i":17,"x":0.21,"y":-6.45},{"s":"LLOMR_OS1","i":18,"x":-1.44,"y":-6.45},{"s":"LLOMR_OS1","i":19,"x":-1.66,"y":-6.26},{"s":"LLOMR_OS1","i":20,"x":-1.73,"y":-6.11},{"s":"LLOMR_OS1","i":21,"x":-1.66,"y":-4.86},{"s":"LLOMR_OS1","i":22,"x":-1.58,"y":-3.78},{"s":"LLOMR_OS1","i":23,"x":-1.47,"y":-3.97},{"s":"LLOMR_OS1","i":24,"x":-1.25,"y":-4.0},{"s":"LLOMR_OS1","i":25,"x":-1.14,"y":-3.89},{"s":"LLOMR_OS1","i":26,"x":-1.18,"y":-3.6},{"s":"LLOMR_OS1","i":27,"x":-1.18,"y":-3.23},{"s":"LLOMR_OS1","i":28,"x":-1.11,"y":-2.71},{"s":"LLOMR_OS1","i":29,"x":-1.18,"y":-1.9},{"s":"LLOMR_OS1","i":30,"x":-1.22,"y":-1.38},{"s":"LLOMR_OS1","i":31,"x":-1.36,"y":-1.31},{"s":"LLOMR_OS1","i":32,"x":-1.33,"y":-0.57},{"s":"LLOMR_OS1","i":33,"x":-1.47,"y":-0.49},{"s":"LLOMR_OS1","i":34,"x":-1.51,"y":0.4},{"s":"LLOMR_OS1","i":35,"x":-1.4,"y":0.39},{"s":"LLOMR_OS1","i":36,"x":-1.18,"y":0.25},{"s":"LLOMR_OS1","i":37,"x":-1.27,"y":0.1},{"s":"LLOMR_OS1","i":38,"x":-1.22,"y":0.3},
{"s":"GT","i":0,"x":-1.51,"y":0.47},{"s":"GT","i":1,"x":-1.22,"y":0.78},{"s":"GT","i":2,"x":-0.78,"y":0.93},{"s":"GT","i":3,"x":-0.26,"y":0.98},{"s":"GT","i":4,"x":0.25,"y":0.92},{"s":"GT","i":5,"x":0.66,"y":0.78},{"s":"GT","i":6,"x":0.78,"y":0.58},{"s":"GT","i":7,"x":0.78,"y":-0.27},{"s":"GT","i":8,"x":0.75,"y":-1.38},{"s":"GT","i":9,"x":0.74,"y":-2.49},{"s":"GT","i":10,"x":0.69,"y":-3.38},{"s":"GT","i":11,"x":0.71,"y":-4.12},{"s":"GT","i":12,"x":0.76,"y":-4.93},{"s":"GT","i":13,"x":0.74,"y":-5.56},{"s":"GT","i":14,"x":0.49,"y":-5.85},{"s":"GT","i":15,"x":0.24,"y":-6.11},{"s":"GT","i":16,"x":0.2,"y":-6.48},{"s":"GT","i":17,"x":0.68,"y":-6.76},{"s":"GT","i":18,"x":0.1,"y":-6.72},{"s":"GT","i":19,"x":-0.48,"y":-6.68},{"s":"GT","i":20,"x":-1.07,"y":-6.62},{"s":"GT","i":21,"x":-1.44,"y":-6.5},{"s":"GT","i":22,"x":-1.64,"y":-6.26},{"s":"GT","i":23,"x":-1.7,"y":-6.11},{"s":"GT","i":24,"x":-1.63,"y":-4.86},{"s":"GT","i":25,"x":-1.55,"y":-3.78},{"s":"GT","i":26,"x":-1.36,"y":-3.62},{"s":"GT","i":27,"x":-1.12,"y":-3.23},{"s":"GT","i":28,"x":-1.06,"y":-2.71},{"s":"GT","i":29,"x":-1.13,"y":-1.9},{"s":"GT","i":30,"x":-1.2,"y":-1.38},{"s":"GT","i":31,"x":-1.33,"y":-1.31},{"s":"GT","i":32,"x":-1.31,"y":-0.57},{"s":"GT","i":33,"x":-1.46,"y":-0.49},{"s":"GT","i":34,"x":-1.51,"y":0.47},
{"s":"FLIO_Avia","i":0,"x":-1.5,"y":0.45},{"s":"FLIO_Avia","i":1,"x":-1.2,"y":0.75},{"s":"FLIO_Avia","i":2,"x":-0.76,"y":0.89},{"s":"FLIO_Avia","i":3,"x":-0.24,"y":0.95},{"s":"FLIO_Avia","i":4,"x":0.27,"y":0.91},{"s":"FLIO_Avia","i":5,"x":0.72,"y":0.79},{"s":"FLIO_Avia","i":6,"x":0.87,"y":0.6},{"s":"FLIO_Avia","i":7,"x":0.88,"y":-0.27},{"s":"FLIO_Avia","i":8,"x":0.85,"y":-1.38},{"s":"FLIO_Avia","i":9,"x":0.83,"y":-2.49},{"s":"FLIO_Avia","i":10,"x":0.78,"y":-3.38},{"s":"FLIO_Avia","i":11,"x":0.79,"y":-4.12},{"s":"FLIO_Avia","i":12,"x":0.84,"y":-4.93},{"s":"FLIO_Avia","i":13,"x":0.79,"y":-5.56},{"s":"FLIO_Avia","i":14,"x":0.53,"y":-5.85},{"s":"FLIO_Avia","i":15,"x":0.27,"y":-6.11},{"s":"FLIO_Avia","i":16,"x":0.22,"y":-6.48},{"s":"FLIO_Avia","i":17,"x":0.7,"y":-6.75},{"s":"FLIO_Avia","i":18,"x":0.11,"y":-6.69},{"s":"FLIO_Avia","i":19,"x":-0.47,"y":-6.64},{"s":"FLIO_Avia","i":20,"x":-1.06,"y":-6.58},{"s":"FLIO_Avia","i":21,"x":-1.43,"y":-6.47},{"s":"FLIO_Avia","i":22,"x":-1.67,"y":-6.25},{"s":"FLIO_Avia","i":23,"x":-1.72,"y":-6.1},{"s":"FLIO_Avia","i":24,"x":-1.65,"y":-4.86},{"s":"FLIO_Avia","i":25,"x":-1.57,"y":-3.78},{"s":"FLIO_Avia","i":26,"x":-1.39,"y":-3.6},{"s":"FLIO_Avia","i":27,"x":-1.17,"y":-3.23},{"s":"FLIO_Avia","i":28,"x":-1.1,"y":-2.71},{"s":"FLIO_Avia","i":29,"x":-1.17,"y":-1.9},{"s":"FLIO_Avia","i":30,"x":-1.21,"y":-1.38},{"s":"FLIO_Avia","i":31,"x":-1.35,"y":-1.31},{"s":"FLIO_Avia","i":32,"x":-1.32,"y":-0.57},{"s":"FLIO_Avia","i":33,"x":-1.46,"y":-0.49},{"s":"FLIO_Avia","i":34,"x":-1.5,"y":0.45},
{"s":"FLIO_OS0","i":0,"x":-1.5,"y":0.47},{"s":"FLIO_OS0","i":1,"x":-1.21,"y":0.75},{"s":"FLIO_OS0","i":2,"x":-0.77,"y":0.89},{"s":"FLIO_OS0","i":3,"x":-0.25,"y":0.95},{"s":"FLIO_OS0","i":4,"x":0.26,"y":0.9},{"s":"FLIO_OS0","i":5,"x":0.72,"y":0.79},{"s":"FLIO_OS0","i":6,"x":0.89,"y":0.6},{"s":"FLIO_OS0","i":7,"x":0.9,"y":-0.27},{"s":"FLIO_OS0","i":8,"x":0.87,"y":-1.38},{"s":"FLIO_OS0","i":9,"x":0.85,"y":-2.49},{"s":"FLIO_OS0","i":10,"x":0.8,"y":-3.38},{"s":"FLIO_OS0","i":11,"x":0.81,"y":-4.12},{"s":"FLIO_OS0","i":12,"x":0.85,"y":-4.93},{"s":"FLIO_OS0","i":13,"x":0.79,"y":-5.56},{"s":"FLIO_OS0","i":14,"x":0.54,"y":-5.85},{"s":"FLIO_OS0","i":15,"x":0.27,"y":-6.11},{"s":"FLIO_OS0","i":16,"x":0.23,"y":-6.48},{"s":"FLIO_OS0","i":17,"x":0.71,"y":-6.78},{"s":"FLIO_OS0","i":18,"x":0.09,"y":-6.72},{"s":"FLIO_OS0","i":19,"x":-0.49,"y":-6.68},{"s":"FLIO_OS0","i":20,"x":-1.08,"y":-6.62},{"s":"FLIO_OS0","i":21,"x":-1.46,"y":-6.5},{"s":"FLIO_OS0","i":22,"x":-1.7,"y":-6.27},{"s":"FLIO_OS0","i":23,"x":-1.79,"y":-6.11},{"s":"FLIO_OS0","i":24,"x":-1.72,"y":-4.86},{"s":"FLIO_OS0","i":25,"x":-1.62,"y":-3.78},{"s":"FLIO_OS0","i":26,"x":-1.43,"y":-3.58},{"s":"FLIO_OS0","i":27,"x":-1.2,"y":-3.21},{"s":"FLIO_OS0","i":28,"x":-1.13,"y":-2.71},{"s":"FLIO_OS0","i":29,"x":-1.2,"y":-1.9},{"s":"FLIO_OS0","i":30,"x":-1.24,"y":-1.38},{"s":"FLIO_OS0","i":31,"x":-1.38,"y":-1.31},{"s":"FLIO_OS0","i":32,"x":-1.35,"y":-0.57},{"s":"FLIO_OS0","i":33,"x":-1.49,"y":-0.49},{"s":"FLIO_OS0","i":34,"x":-1.5,"y":0.47},
{"s":"LEGO_Velo","i":0,"x":-1.53,"y":0.49},{"s":"LEGO_Velo","i":1,"x":-1.23,"y":0.77},{"s":"LEGO_Velo","i":2,"x":-0.79,"y":0.91},{"s":"LEGO_Velo","i":3,"x":-0.27,"y":0.96},{"s":"LEGO_Velo","i":4,"x":0.23,"y":0.91},{"s":"LEGO_Velo","i":5,"x":0.64,"y":0.79},{"s":"LEGO_Velo","i":6,"x":0.76,"y":0.55},{"s":"LEGO_Velo","i":7,"x":0.8,"y":-0.27},{"s":"LEGO_Velo","i":8,"x":0.79,"y":-1.38},{"s":"LEGO_Velo","i":9,"x":0.79,"y":-2.49},{"s":"LEGO_Velo","i":10,"x":0.75,"y":-3.38},{"s":"LEGO_Velo","i":11,"x":0.77,"y":-4.12},{"s":"LEGO_Velo","i":12,"x":0.81,"y":-4.93},{"s":"LEGO_Velo","i":13,"x":0.75,"y":-5.56},{"s":"LEGO_Velo","i":14,"x":0.5,"y":-5.85},{"s":"LEGO_Velo","i":15,"x":0.24,"y":-6.11},{"s":"LEGO_Velo","i":16,"x":0.2,"y":-6.48},{"s":"LEGO_Velo","i":17,"x":0.69,"y":-6.76},{"s":"LEGO_Velo","i":18,"x":0.09,"y":-6.7},{"s":"LEGO_Velo","i":19,"x":-0.49,"y":-6.65},{"s":"LEGO_Velo","i":20,"x":-1.08,"y":-6.59},{"s":"LEGO_Velo","i":21,"x":-1.45,"y":-6.48},{"s":"LEGO_Velo","i":22,"x":-1.67,"y":-6.26},{"s":"LEGO_Velo","i":23,"x":-1.72,"y":-6.11},{"s":"LEGO_Velo","i":24,"x":-1.65,"y":-4.86},{"s":"LEGO_Velo","i":25,"x":-1.57,"y":-3.78},{"s":"LEGO_Velo","i":26,"x":-1.38,"y":-3.6},{"s":"LEGO_Velo","i":27,"x":-1.15,"y":-3.23},{"s":"LEGO_Velo","i":28,"x":-1.08,"y":-2.71},{"s":"LEGO_Velo","i":29,"x":-1.16,"y":-1.9},{"s":"LEGO_Velo","i":30,"x":-1.21,"y":-1.38},{"s":"LEGO_Velo","i":31,"x":-1.35,"y":-1.31},{"s":"LEGO_Velo","i":32,"x":-1.32,"y":-0.57},{"s":"LEGO_Velo","i":33,"x":-1.47,"y":-0.49},{"s":"LEGO_Velo","i":34,"x":-1.53,"y":0.49},
{"s":"LIOL_Hori","i":0,"x":-1.5,"y":0.46},{"s":"LIOL_Hori","i":1,"x":-1.21,"y":0.76},{"s":"LIOL_Hori","i":2,"x":-0.77,"y":0.9},{"s":"LIOL_Hori","i":3,"x":-0.25,"y":0.96},{"s":"LIOL_Hori","i":4,"x":0.26,"y":0.91},{"s":"LIOL_Hori","i":5,"x":0.71,"y":0.8},{"s":"LIOL_Hori","i":6,"x":0.86,"y":0.62},{"s":"LIOL_Hori","i":7,"x":0.87,"y":-0.27},{"s":"LIOL_Hori","i":8,"x":0.84,"y":-1.38},{"s":"LIOL_Hori","i":9,"x":0.83,"y":-2.49},{"s":"LIOL_Hori","i":10,"x":0.78,"y":-3.38},{"s":"LIOL_Hori","i":11,"x":0.8,"y":-4.12},{"s":"LIOL_Hori","i":12,"x":0.84,"y":-4.93},{"s":"LIOL_Hori","i":13,"x":0.78,"y":-5.56},{"s":"LIOL_Hori","i":14,"x":0.52,"y":-5.85},{"s":"LIOL_Hori","i":15,"x":0.26,"y":-6.11},{"s":"LIOL_Hori","i":16,"x":0.22,"y":-6.48},{"s":"LIOL_Hori","i":17,"x":0.71,"y":-6.76},{"s":"LIOL_Hori","i":18,"x":0.1,"y":-6.71},{"s":"LIOL_Hori","i":19,"x":-0.48,"y":-6.66},{"s":"LIOL_Hori","i":20,"x":-1.07,"y":-6.6},{"s":"LIOL_Hori","i":21,"x":-1.44,"y":-6.49},{"s":"LIOL_Hori","i":22,"x":-1.66,"y":-6.27},{"s":"LIOL_Hori","i":23,"x":-1.73,"y":-6.11},{"s":"LIOL_Hori","i":24,"x":-1.66,"y":-4.86},{"s":"LIOL_Hori","i":25,"x":-1.58,"y":-3.78},{"s":"LIOL_Hori","i":26,"x":-1.4,"y":-3.6},{"s":"LIOL_Hori","i":27,"x":-1.17,"y":-3.23},{"s":"LIOL_Hori","i":28,"x":-1.1,"y":-2.71},{"s":"LIOL_Hori","i":29,"x":-1.17,"y":-1.9},{"s":"LIOL_Hori","i":30,"x":-1.22,"y":-1.38},{"s":"LIOL_Hori","i":31,"x":-1.35,"y":-1.31},{"s":"LIOL_Hori","i":32,"x":-1.33,"y":-0.57},{"s":"LIOL_Hori","i":33,"x":-1.47,"y":-0.49},{"s":"LIOL_Hori","i":34,"x":-1.5,"y":0.46},
{"s":"LLOM_Hori","i":0,"x":-1.52,"y":0.46},{"s":"LLOM_Hori","i":1,"x":-1.22,"y":0.75},{"s":"LLOM_Hori","i":2,"x":-0.78,"y":0.89},{"s":"LLOM_Hori","i":3,"x":-0.26,"y":0.95},{"s":"LLOM_Hori","i":4,"x":0.25,"y":0.9},{"s":"LLOM_Hori","i":5,"x":0.7,"y":0.8},{"s":"LLOM_Hori","i":6,"x":0.85,"y":0.62},{"s":"LLOM_Hori","i":7,"x":0.86,"y":-0.27},{"s":"LLOM_Hori","i":8,"x":0.84,"y":-1.38},{"s":"LLOM_Hori","i":9,"x":0.84,"y":-2.49},{"s":"LLOM_Hori","i":10,"x":0.8,"y":-3.38},{"s":"LLOM_Hori","i":11,"x":0.83,"y":-4.12},{"s":"LLOM_Hori","i":12,"x":0.88,"y":-4.93},{"s":"LLOM_Hori","i":13,"x":0.84,"y":-5.56},{"s":"LLOM_Hori","i":14,"x":0.58,"y":-5.87},{"s":"LLOM_Hori","i":15,"x":0.36,"y":-6.13},{"s":"LLOM_Hori","i":16,"x":0.38,"y":-6.48},{"s":"LLOM_Hori","i":17,"x":0.71,"y":-6.77},{"s":"LLOM_Hori","i":18,"x":0.1,"y":-6.68},{"s":"LLOM_Hori","i":19,"x":-0.48,"y":-6.63},{"s":"LLOM_Hori","i":20,"x":-1.07,"y":-6.57},{"s":"LLOM_Hori","i":21,"x":-1.45,"y":-6.47},{"s":"LLOM_Hori","i":22,"x":-1.68,"y":-6.25},{"s":"LLOM_Hori","i":23,"x":-1.76,"y":-6.09},{"s":"LLOM_Hori","i":24,"x":-1.68,"y":-4.86},{"s":"LLOM_Hori","i":25,"x":-1.59,"y":-3.8},{"s":"LLOM_Hori","i":26,"x":-1.41,"y":-3.61},{"s":"LLOM_Hori","i":27,"x":-1.18,"y":-3.23},{"s":"LLOM_Hori","i":28,"x":-1.11,"y":-2.71},{"s":"LLOM_Hori","i":29,"x":-1.18,"y":-1.9},{"s":"LLOM_Hori","i":30,"x":-1.22,"y":-1.38},{"s":"LLOM_Hori","i":31,"x":-1.36,"y":-1.31},{"s":"LLOM_Hori","i":32,"x":-1.33,"y":-0.57},{"s":"LLOM_Hori","i":33,"x":-1.47,"y":-0.49},{"s":"LLOM_Hori","i":34,"x":-1.52,"y":0.46},
{"s":"FLIO_OS1","i":0,"x":-1.53,"y":0.46},{"s":"FLIO_OS1","i":1,"x":-1.24,"y":0.75},{"s":"FLIO_OS1","i":2,"x":-0.8,"y":0.89},{"s":"FLIO_OS1","i":3,"x":-0.28,"y":0.95},{"s":"FLIO_OS1","i":4,"x":0.25,"y":0.9},{"s":"FLIO_OS1","i":5,"x":0.8,"y":0.78},{"s":"FLIO_OS1","i":6,"x":0.98,"y":0.55},{"s":"FLIO_OS1","i":7,"x":1.02,"y":-0.27},{"s":"FLIO_OS1","i":8,"x":1.0,"y":-1.38},{"s":"FLIO_OS1","i":9,"x":0.97,"y":-2.49},{"s":"FLIO_OS1","i":10,"x":0.88,"y":-3.38},{"s":"FLIO_OS1","i":11,"x":0.84,"y":-4.12},{"s":"FLIO_OS1","i":12,"x":0.86,"y":-4.93},{"s":"FLIO_OS1","i":13,"x":0.8,"y":-5.56},{"s":"FLIO_OS1","i":14,"x":0.55,"y":-5.85},{"s":"FLIO_OS1","i":15,"x":0.28,"y":-6.11},{"s":"FLIO_OS1","i":16,"x":0.24,"y":-6.48},{"s":"FLIO_OS1","i":17,"x":0.72,"y":-6.79},{"s":"FLIO_OS1","i":18,"x":0.11,"y":-6.73},{"s":"FLIO_OS1","i":19,"x":-0.47,"y":-6.69},{"s":"FLIO_OS1","i":20,"x":-1.09,"y":-6.63},{"s":"FLIO_OS1","i":21,"x":-1.48,"y":-6.52},{"s":"FLIO_OS1","i":22,"x":-1.77,"y":-6.29},{"s":"FLIO_OS1","i":23,"x":-1.86,"y":-6.11},{"s":"FLIO_OS1","i":24,"x":-1.78,"y":-4.86},{"s":"FLIO_OS1","i":25,"x":-1.65,"y":-3.78},{"s":"FLIO_OS1","i":26,"x":-1.47,"y":-3.55},{"s":"FLIO_OS1","i":27,"x":-1.33,"y":-2.93},{"s":"FLIO_OS1","i":28,"x":-1.16,"y":-2.55},{"s":"FLIO_OS1","i":29,"x":-1.22,"y":-1.9},{"s":"FLIO_OS1","i":30,"x":-1.26,"y":-1.38},{"s":"FLIO_OS1","i":31,"x":-1.4,"y":-1.31},{"s":"FLIO_OS1","i":32,"x":-1.37,"y":-0.57},{"s":"FLIO_OS1","i":33,"x":-1.5,"y":-0.49},{"s":"FLIO_OS1","i":34,"x":-1.53,"y":0.46},
{"s":"FLIO_Hori","i":0,"x":-1.52,"y":0.48},{"s":"FLIO_Hori","i":1,"x":-1.23,"y":0.77},{"s":"FLIO_Hori","i":2,"x":-0.79,"y":0.91},{"s":"FLIO_Hori","i":3,"x":-0.27,"y":0.97},{"s":"FLIO_Hori","i":4,"x":0.24,"y":0.92},{"s":"FLIO_Hori","i":5,"x":0.7,"y":0.81},{"s":"FLIO_Hori","i":6,"x":0.86,"y":0.63},{"s":"FLIO_Hori","i":7,"x":0.86,"y":-0.27},{"s":"FLIO_Hori","i":8,"x":0.83,"y":-1.38},{"s":"FLIO_Hori","i":9,"x":0.82,"y":-2.49},{"s":"FLIO_Hori","i":10,"x":0.77,"y":-3.38},{"s":"FLIO_Hori","i":11,"x":0.79,"y":-4.12},{"s":"FLIO_Hori","i":12,"x":0.83,"y":-4.93},{"s":"FLIO_Hori","i":13,"x":0.77,"y":-5.56},{"s":"FLIO_Hori","i":14,"x":0.52,"y":-5.85},{"s":"FLIO_Hori","i":15,"x":0.26,"y":-6.11},{"s":"FLIO_Hori","i":16,"x":0.22,"y":-6.48},{"s":"FLIO_Hori","i":17,"x":0.72,"y":-6.77},{"s":"FLIO_Hori","i":18,"x":0.11,"y":-6.71},{"s":"FLIO_Hori","i":19,"x":-0.47,"y":-6.66},{"s":"FLIO_Hori","i":20,"x":-1.06,"y":-6.6},{"s":"FLIO_Hori","i":21,"x":-1.45,"y":-6.49},{"s":"FLIO_Hori","i":22,"x":-1.67,"y":-6.27},{"s":"FLIO_Hori","i":23,"x":-1.74,"y":-6.12},{"s":"FLIO_Hori","i":24,"x":-1.67,"y":-4.86},{"s":"FLIO_Hori","i":25,"x":-1.59,"y":-3.78},{"s":"FLIO_Hori","i":26,"x":-1.41,"y":-3.6},{"s":"FLIO_Hori","i":27,"x":-1.19,"y":-3.23},{"s":"FLIO_Hori","i":28,"x":-1.12,"y":-2.71},{"s":"FLIO_Hori","i":29,"x":-1.19,"y":-1.9},{"s":"FLIO_Hori","i":30,"x":-1.23,"y":-1.38},{"s":"FLIO_Hori","i":31,"x":-1.37,"y":-1.31},{"s":"FLIO_Hori","i":32,"x":-1.34,"y":-0.57},{"s":"FLIO_Hori","i":33,"x":-1.48,"y":-0.49},{"s":"FLIO_Hori","i":34,"x":-1.52,"y":0.48},
{"s":"LVXM_Hori","i":0,"x":-1.5,"y":0.48},{"s":"LVXM_Hori","i":1,"x":-1.21,"y":0.77},{"s":"LVXM_Hori","i":2,"x":-0.77,"y":0.91},{"s":"LVXM_Hori","i":3,"x":-0.25,"y":0.96},{"s":"LVXM_Hori","i":4,"x":0.26,"y":0.9},{"s":"LVXM_Hori","i":5,"x":0.7,"y":0.79},{"s":"LVXM_Hori","i":6,"x":0.84,"y":0.6},{"s":"LVXM_Hori","i":7,"x":0.84,"y":-0.27},{"s":"LVXM_Hori","i":8,"x":0.81,"y":-1.38},{"s":"LVXM_Hori","i":9,"x":0.8,"y":-2.49},{"s":"LVXM_Hori","i":10,"x":0.75,"y":-3.38},{"s":"LVXM_Hori","i":11,"x":0.77,"y":-4.12},{"s":"LVXM_Hori","i":12,"x":0.81,"y":-4.93},{"s":"LVXM_Hori","i":13,"x":0.75,"y":-5.56},{"s":"LVXM_Hori","i":14,"x":0.5,"y":-5.85},{"s":"LVXM_Hori","i":15,"x":0.24,"y":-6.11},{"s":"LVXM_Hori","i":16,"x":0.2,"y":-6.48},{"s":"LVXM_Hori","i":17,"x":0.69,"y":-6.75},{"s":"LVXM_Hori","i":18,"x":0.09,"y":-6.69},{"s":"LVXM_Hori","i":19,"x":-0.49,"y":-6.64},{"s":"LVXM_Hori","i":20,"x":-1.08,"y":-6.58},{"s":"LVXM_Hori","i":21,"x":-1.45,"y":-6.47},{"s":"LVXM_Hori","i":22,"x":-1.65,"y":-6.25},{"s":"LVXM_Hori","i":23,"x":-1.71,"y":-6.1},{"s":"LVXM_Hori","i":24,"x":-1.64,"y":-4.86},{"s":"LVXM_Hori","i":25,"x":-1.56,"y":-3.78},{"s":"LVXM_Hori","i":26,"x":-1.39,"y":-3.6},{"s":"LVXM_Hori","i":27,"x":-1.17,"y":-3.23},{"s":"LVXM_Hori","i":28,"x":-1.1,"y":-2.71},{"s":"LVXM_Hori","i":29,"x":-1.17,"y":-1.9},{"s":"LVXM_Hori","i":30,"x":-1.21,"y":-1.38},{"s":"LVXM_Hori","i":31,"x":-1.35,"y":-1.31},{"s":"LVXM_Hori","i":32,"x":-1.32,"y":-0.57},{"s":"LVXM_Hori","i":33,"x":-1.46,"y":-0.49},{"s":"LVXM_Hori","i":34,"x":-1.5,"y":0.48}
],
"c_ins":[
{"s":"FLIO_Avia","g":"b","i":0,"x":3.736,"y":-2.34},{"s":"FLIO_Avia","g":"b","i":1,"x":3.808,"y":-2.969},{"s":"FLIO_Avia","g":"b","i":2,"x":3.859,"y":-3.71},{"s":"FLIO_Avia","g":"b","i":3,"x":3.808,"y":-4.154},{"s":"FLIO_Avia","g":"b","i":4,"x":3.663,"y":-4.598},{"s":"FLIO_Avia","g":"b","i":5,"x":3.553,"y":-5.191},{"s":"FLIO_Avia","g":"b","i":6,"x":3.481,"y":-5.783},{"s":"FLIO_Avia","g":"b","i":7,"x":3.59,"y":-6.338},
{"s":"FLIO_Hori","g":"o","i":0,"x":3.772,"y":-2.34},{"s":"FLIO_Hori","g":"o","i":1,"x":3.83,"y":-3.117},{"s":"FLIO_Hori","g":"o","i":2,"x":3.881,"y":-3.932},{"s":"FLIO_Hori","g":"o","i":3,"x":3.736,"y":-4.598},{"s":"FLIO_Hori","g":"o","i":4,"x":3.663,"y":-5.191},{"s":"FLIO_Hori","g":"o","i":5,"x":3.699,"y":-5.709},{"s":"FLIO_Hori","g":"o","i":6,"x":3.736,"y":-6.338},
{"s":"FLIO_OS0","g":"g","i":0,"x":3.859,"y":-2.34},{"s":"FLIO_OS0","g":"g","i":1,"x":3.845,"y":-2.969},{"s":"FLIO_OS0","g":"g","i":2,"x":3.954,"y":-3.932},{"s":"FLIO_OS0","g":"g","i":3,"x":3.845,"y":-4.45},{"s":"FLIO_OS0","g":"g","i":4,"x":3.736,"y":-5.042},{"s":"FLIO_OS0","g":"g","i":5,"x":3.663,"y":-5.561},{"s":"FLIO_OS0","g":"g","i":6,"x":3.714,"y":-6.338},
{"s":"LLOMR_OS1","g":"w","i":0,"x":3.83,"y":-2.34},{"s":"LLOMR_OS1","g":"w","i":1,"x":3.918,"y":-3.043},{"s":"LLOMR_OS1","g":"w","i":2,"x":3.991,"y":-3.414},{"s":"LLOMR_OS1","g":"w","i":3,"x":3.918,"y":-4.154},{"s":"LLOMR_OS1","g":"w","i":4,"x":3.808,"y":-4.672},{"s":"LLOMR_OS1","g":"w","i":5,"x":3.736,"y":-5.339},{"s":"LLOMR_OS1","g":"w","i":6,"x":3.699,"y":-6.338},
{"s":"LVXM_Hori","g":"y","i":0,"x":3.815,"y":-2.34},{"s":"LVXM_Hori","g":"y","i":1,"x":3.859,"y":-3.34},{"s":"LVXM_Hori","g":"y","i":2,"x":3.83,"y":-4.08},{"s":"LVXM_Hori","g":"y","i":3,"x":3.714,"y":-4.82},{"s":"LVXM_Hori","g":"y","i":4,"x":3.684,"y":-5.561},{"s":"LVXM_Hori","g":"y","i":5,"x":3.772,"y":-6.338},
{"s":"LIOL_Hori","g":"n","i":0,"x":4.078,"y":-2.34},{"s":"LIOL_Hori","g":"n","i":1,"x":4.122,"y":-2.969},{"s":"LIOL_Hori","g":"n","i":2,"x":4.027,"y":-4.08},{"s":"LIOL_Hori","g":"n","i":3,"x":3.881,"y":-4.746},{"s":"LIOL_Hori","g":"n","i":4,"x":3.845,"y":-5.339},{"s":"LIOL_Hori","g":"n","i":5,"x":3.954,"y":-5.783},{"s":"LIOL_Hori","g":"n","i":6,"x":4.027,"y":-6.338},
{"s":"LEGO_Velo","g":"p","i":0,"x":4.063,"y":-2.34},{"s":"LEGO_Velo","g":"p","i":1,"x":4.1,"y":-2.747},{"s":"LEGO_Velo","g":"p","i":2,"x":4.151,"y":-3.488},{"s":"LEGO_Velo","g":"p","i":3,"x":4.1,"y":-4.302},{"s":"LEGO_Velo","g":"p","i":4,"x":3.991,"y":-4.968},{"s":"LEGO_Velo","g":"p","i":5,"x":3.976,"y":-5.635},{"s":"LEGO_Velo","g":"p","i":6,"x":4.049,"y":-6.338},
{"s":"LLOM_Hori","g":"k","i":0,"x":3.808,"y":-2.34},{"s":"LLOM_Hori","g":"k","i":1,"x":3.881,"y":-3.117},{"s":"LLOM_Hori","g":"k","i":2,"x":3.918,"y":-3.932},{"s":"LLOM_Hori","g":"k","i":3,"x":3.772,"y":-4.08},{"s":"LLOM_Hori","g":"k","i":4,"x":3.736,"y":-4.524},{"s":"LLOM_Hori","g":"k","i":5,"x":3.626,"y":-5.191},{"s":"LLOM_Hori","g":"k","i":6,"x":3.736,"y":-5.931},{"s":"LLOM_Hori","g":"k","i":7,"x":3.845,"y":-6.338},
{"s":"FLIO_OS1","g":"r","i":0,"x":3.787,"y":-2.34},{"s":"FLIO_OS1","g":"r","i":1,"x":3.845,"y":-2.969},{"s":"FLIO_OS1","g":"r","i":2,"x":3.903,"y":-3.71},{"s":"FLIO_OS1","g":"r","i":3,"x":3.808,"y":-4.302},{"s":"FLIO_OS1","g":"r","i":4,"x":3.663,"y":-4.82},{"s":"FLIO_OS1","g":"r","i":5,"x":3.59,"y":-5.339},{"s":"FLIO_OS1","g":"r","i":6,"x":3.517,"y":-5.635},{"s":"FLIO_OS1","g":"r","i":7,"x":3.626,"y":-5.931},{"s":"FLIO_OS1","g":"r","i":8,"x":3.699,"y":-6.338},
{"s":"GT","g":"gt","i":0,"x":3.626,"y":-2.34},{"s":"GT","g":"gt","i":1,"x":3.699,"y":-2.821},{"s":"GT","g":"gt","i":2,"x":3.757,"y":-3.488},{"s":"GT","g":"gt","i":3,"x":3.663,"y":-4.006},{"s":"GT","g":"gt","i":4,"x":3.517,"y":-4.598},{"s":"GT","g":"gt","i":5,"x":3.408,"y":-5.191},{"s":"GT","g":"gt","i":6,"x":3.444,"y":-5.635},{"s":"GT","g":"gt","i":7,"x":3.59,"y":-5.931},{"s":"GT","g":"gt","i":8,"x":3.663,"y":-6.338}
],
"c_frame":[{"x":2.315,"x2":5.36,"y":-6.39,"y2":-2.34}],
"c_zoom":[{"x":0.23,"x2":1.2,"y":-4.47,"y2":-2.85}],
"c_conn":[{"x":1.2,"y":-2.85,"x2":2.315,"y2":-2.34},{"x":1.2,"y":-4.47,"x2":2.315,"y2":-6.39}]
},
"hconcat":[
{
 "width":393,"height":390,
 "title":{"text":"(a) trajectory comparison of sequence Indoor10","orient":"bottom","font":"Liberation Serif","fontSize":18,"fontWeight":"normal","color":"#000","dx":-18,"offset":12},
 "encoding":{
  "x":{"field":"x","type":"quantitative","scale":{"domain":[-66.3,23.5],"nice":false,"zero":false},"axis":{"values":[-60,-50,-40,-30,-20,-10,0,10,20],"title":"x (m)"}},
  "y":{"field":"y","type":"quantitative","scale":{"domain":[-45.8,41.5],"nice":false,"zero":false},"axis":{"values":[-40,-30,-20,-10,0,10,20,30,40],"title":"y (m)"}}
 },
 "layer":[
  {"data":{"name":"a_conn"},"mark":{"type":"rule","color":"#333","strokeWidth":0.8},"encoding":{"x2":{"field":"x2"},"y2":{"field":"y2"}}},
  {"data":{"name":"a_main"},"transform":[{"filter":"datum.s === 'GT'"}],"mark":{"type":"line","strokeWidth":2.2,"strokeDash":[6,3],"opacity":0.9},
   "encoding":{"color":{"field":"s","type":"nominal","scale":{"domain":["GT","FLIO_Avia","FLIO_Hori","FLIO_OS0","FLIO_OS1","FLIO_Velo","LEGO_Velo","LIOL_Hori","LLOM_Hori","LLOMR_OS1"],"range":["#6b6b6b","#3566f5","#ff8a26","#3dc953","#e8282f","#9b4ae6","#a9632f","#f46bc9","#bdbdbd","#ffc53d"]},"legend":{"orient":"top-left","encode":{"symbols":{"update":{"strokeDash":{"signal":"datum.value === 'GT' ? [5,2.5] : [1,0]"}}}}}},"order":{"field":"i","type":"quantitative"}}},
  {"data":{"name":"a_main"},"transform":[{"filter":"datum.s !== 'GT'"}],"mark":{"type":"line","strokeWidth":1.9,"opacity":0.85},
   "encoding":{"color":{"field":"s","type":"nominal","scale":{"domain":["GT","FLIO_Avia","FLIO_Hori","FLIO_OS0","FLIO_OS1","FLIO_Velo","LEGO_Velo","LIOL_Hori","LLOM_Hori","LLOMR_OS1"],"range":["#6b6b6b","#3566f5","#ff8a26","#3dc953","#e8282f","#9b4ae6","#a9632f","#f46bc9","#bdbdbd","#ffc53d"]},"legend":{"orient":"top-left","encode":{"symbols":{"update":{"strokeDash":{"signal":"datum.value === 'GT' ? [5,2.5] : [1,0]"}}}}}},"order":{"field":"i","type":"quantitative"}}},
  {"data":{"name":"a_frame"},"mark":{"type":"rect","fill":"white","stroke":"#444","strokeWidth":1.3},"encoding":{"x2":{"field":"x2"},"y2":{"field":"y2"}}},
  {"data":{"name":"a_zoom"},"mark":{"type":"rect","fill":"white","fillOpacity":0,"stroke":"#333","strokeWidth":1,"strokeDash":[4,3]},"encoding":{"x2":{"field":"x2"},"y2":{"field":"y2"}}},
  {"data":{"name":"a_ins"},"transform":[{"filter":"datum.s !== 'GT'"}],"mark":{"type":"line","strokeWidth":1.2},
   "encoding":{"color":{"field":"s","type":"nominal","legend":null},"detail":{"field":"g"},"order":{"field":"i","type":"quantitative"}}},
  {"data":{"name":"a_ins"},"transform":[{"filter":"datum.s === 'GT'"}],"mark":{"type":"line","strokeWidth":1.5,"strokeDash":[4,2.5],"color":"#111"},
   "encoding":{"detail":{"field":"g"},"order":{"field":"i","type":"quantitative"}}}
 ]
},
{
 "width":398,"height":389,
 "title":{"text":"(b) trajectory comparison of sequence Road03","orient":"bottom","font":"Liberation Serif","fontSize":18,"fontWeight":"normal","color":"#000","dx":-14,"offset":12},
 "encoding":{
  "x":{"field":"x","type":"quantitative","scale":{"domain":[-17.8,62.5],"nice":false,"zero":false},"axis":{"values":[-10,0,10,20,30,40,50,60],"title":"x (m)"}},
  "y":{"field":"y","type":"quantitative","scale":{"domain":[-3.47,74.5],"nice":false,"zero":false},"axis":{"values":[0,10,20,30,40,50,60,70],"title":"y (m)"}}
 },
 "layer":[
  {"data":{"name":"b_conn"},"mark":{"type":"rule","color":"#333","strokeWidth":0.8},"encoding":{"x2":{"field":"x2"},"y2":{"field":"y2"}}},
  {"data":{"name":"b_main"},"transform":[{"filter":"datum.s === 'GT'"}],"mark":{"type":"line","strokeWidth":2.2,"strokeDash":[6,3],"opacity":0.9},
   "encoding":{"color":{"field":"s","type":"nominal","scale":{"domain":["GT","FLIO_Avia","FLIO_Hori","FLIO_OS0","FLIO_OS1","FLIO_Velo","LEGO_Velo","LIOL_Hori","LLOM_Hori","LVXM_Hori"],"range":["#6b6b6b","#3566f5","#ff8a26","#3dc953","#e8282f","#9b4ae6","#a9632f","#f46bc9","#bdbdbd","#ffc53d"]},"legend":{"orient":"top-right","encode":{"symbols":{"update":{"strokeDash":{"signal":"datum.value === 'GT' ? [5,2.5] : [1,0]"}}}}}},"order":{"field":"i","type":"quantitative"}}},
  {"data":{"name":"b_main"},"transform":[{"filter":"datum.s !== 'GT'"}],"mark":{"type":"line","strokeWidth":2.1,"opacity":0.85},
   "encoding":{"color":{"field":"s","type":"nominal","scale":{"domain":["GT","FLIO_Avia","FLIO_Hori","FLIO_OS0","FLIO_OS1","FLIO_Velo","LEGO_Velo","LIOL_Hori","LLOM_Hori","LVXM_Hori"],"range":["#6b6b6b","#3566f5","#ff8a26","#3dc953","#e8282f","#9b4ae6","#a9632f","#f46bc9","#bdbdbd","#ffc53d"]},"legend":{"orient":"top-right","encode":{"symbols":{"update":{"strokeDash":{"signal":"datum.value === 'GT' ? [5,2.5] : [1,0]"}}}}}},"order":{"field":"i","type":"quantitative"}}},
  {"data":{"name":"b_frame"},"mark":{"type":"rect","fill":"white","stroke":"#444","strokeWidth":1.3},"encoding":{"x2":{"field":"x2"},"y2":{"field":"y2"}}},
  {"data":{"name":"b_zoom"},"mark":{"type":"rect","fill":"white","fillOpacity":0,"stroke":"#333","strokeWidth":1,"strokeDash":[3,2]},"encoding":{"x2":{"field":"x2"},"y2":{"field":"y2"}}},
  {"data":{"name":"b_ins"},"transform":[{"filter":"datum.s !== 'GT'"}],"mark":{"type":"line","strokeWidth":1.3},
   "encoding":{"color":{"field":"s","type":"nominal","legend":null},"detail":{"field":"g"},"order":{"field":"i","type":"quantitative"}}},
  {"data":{"name":"b_ins"},"transform":[{"filter":"datum.s === 'GT'"}],"mark":{"type":"line","strokeWidth":1.6,"strokeDash":[4,2.5],"color":"#111"},
   "encoding":{"detail":{"field":"g"},"order":{"field":"i","type":"quantitative"}}}
 ]
},
{
 "width":398,"height":388,
 "title":{"text":"(c) trajectory comparison of sequence Forest01","orient":"bottom","font":"Liberation Serif","fontSize":18,"fontWeight":"normal","color":"#000","dx":-15,"offset":12},
 "encoding":{
  "x":{"field":"x","type":"quantitative","scale":{"domain":[-2.59,6.16],"nice":false,"zero":false},"axis":{"values":[-2,-1,0,1,2,3,4,5,6],"title":"x (m)"}},
  "y":{"field":"y","type":"quantitative","scale":{"domain":[-7.33,1.27],"nice":false,"zero":false},"axis":{"values":[-7,-6,-5,-4,-3,-2,-1,0,1],"title":"y (m)"}}
 },
 "layer":[
  {"data":{"name":"c_conn"},"mark":{"type":"rule","color":"#333","strokeWidth":0.8},"encoding":{"x2":{"field":"x2"},"y2":{"field":"y2"}}},
  {"data":{"name":"c_main"},"transform":[{"filter":"datum.s === 'GT'"}],"mark":{"type":"line","strokeWidth":2.6,"strokeDash":[7,3],"opacity":0.9},
   "encoding":{"color":{"field":"s","type":"nominal","scale":{"domain":["GT","FLIO_Avia","FLIO_Hori","FLIO_OS0","FLIO_OS1","LEGO_Velo","LIOL_Hori","LLOM_Hori","LLOMR_OS1","LVXM_Hori"],"range":["#6b6b6b","#3566f5","#ff8a26","#3dc953","#e8282f","#9b4ae6","#a9632f","#f46bc9","#bdbdbd","#ffc53d"]},"legend":{"orient":"top-right","encode":{"symbols":{"update":{"strokeDash":{"signal":"datum.value === 'GT' ? [5,2.5] : [1,0]"}}}}}},"order":{"field":"i","type":"quantitative"}}},
  {"data":{"name":"c_main"},"transform":[{"filter":"datum.s !== 'GT'"}],"mark":{"type":"line","strokeWidth":1.8,"opacity":0.85},
   "encoding":{"color":{"field":"s","type":"nominal","scale":{"domain":["GT","FLIO_Avia","FLIO_Hori","FLIO_OS0","FLIO_OS1","LEGO_Velo","LIOL_Hori","LLOM_Hori","LLOMR_OS1","LVXM_Hori"],"range":["#6b6b6b","#3566f5","#ff8a26","#3dc953","#e8282f","#9b4ae6","#a9632f","#f46bc9","#bdbdbd","#ffc53d"]},"legend":{"orient":"top-right","encode":{"symbols":{"update":{"strokeDash":{"signal":"datum.value === 'GT' ? [5,2.5] : [1,0]"}}}}}},"order":{"field":"i","type":"quantitative"}}},
  {"data":{"name":"c_frame"},"mark":{"type":"rect","fill":"white","stroke":"#555","strokeWidth":1.3},"encoding":{"x2":{"field":"x2"},"y2":{"field":"y2"}}},
  {"data":{"name":"c_zoom"},"mark":{"type":"rect","fill":"white","fillOpacity":0,"stroke":"#333","strokeWidth":1,"strokeDash":[3,2]},"encoding":{"x2":{"field":"x2"},"y2":{"field":"y2"}}},
  {"data":{"name":"c_ins"},"transform":[{"filter":"datum.s !== 'GT'"}],"mark":{"type":"line","strokeWidth":1.2},
   "encoding":{"color":{"field":"s","type":"nominal","legend":null},"detail":{"field":"g"},"order":{"field":"i","type":"quantitative"}}},
  {"data":{"name":"c_ins"},"transform":[{"filter":"datum.s === 'GT'"}],"mark":{"type":"line","strokeWidth":1.8,"strokeDash":[5,3],"color":"#111"},
   "encoding":{"detail":{"field":"g"},"order":{"field":"i","type":"quantitative"}}}
 ]
}
]
}
